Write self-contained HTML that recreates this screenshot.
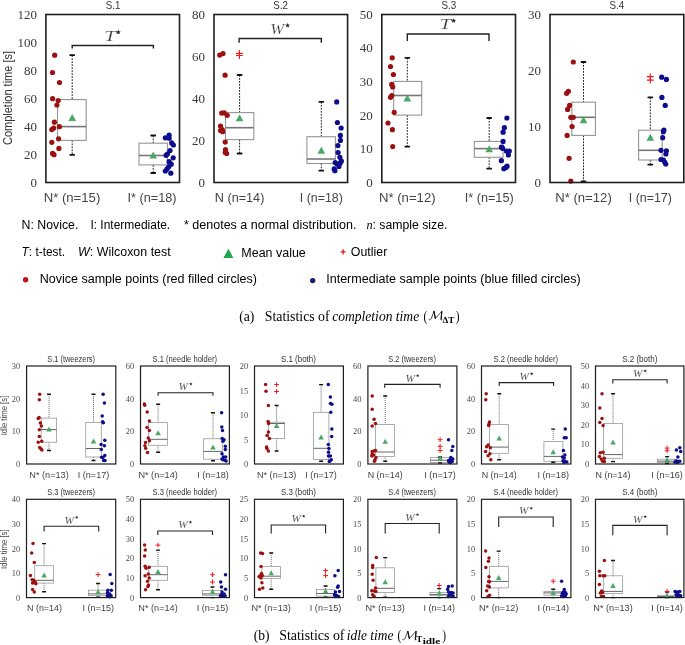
<!DOCTYPE html>
<html><head><meta charset="utf-8"><style>
html,body{margin:0;padding:0;background:#fff;}
svg{display:block;will-change:transform;}
</style></head><body>
<svg width="685" height="645" viewBox="0 0 685 645">
<rect width="685" height="645" fill="#fff"/>
<text x="36.9" y="186.85" font-size="13.2" font-family='"Liberation Serif", serif' text-anchor="end" fill="#3a3a3a" textLength="6.5" lengthAdjust="spacingAndGlyphs" >0</text>
<text x="36.9" y="158.85" font-size="13.2" font-family='"Liberation Serif", serif' text-anchor="end" fill="#3a3a3a" textLength="13" lengthAdjust="spacingAndGlyphs" >20</text>
<text x="36.9" y="130.85" font-size="13.2" font-family='"Liberation Serif", serif' text-anchor="end" fill="#3a3a3a" textLength="13" lengthAdjust="spacingAndGlyphs" >40</text>
<text x="36.9" y="102.85" font-size="13.2" font-family='"Liberation Serif", serif' text-anchor="end" fill="#3a3a3a" textLength="13" lengthAdjust="spacingAndGlyphs" >60</text>
<text x="36.9" y="74.85" font-size="13.2" font-family='"Liberation Serif", serif' text-anchor="end" fill="#3a3a3a" textLength="13" lengthAdjust="spacingAndGlyphs" >80</text>
<text x="36.9" y="46.85" font-size="13.2" font-family='"Liberation Serif", serif' text-anchor="end" fill="#3a3a3a" textLength="19.5" lengthAdjust="spacingAndGlyphs" >100</text>
<text x="36.9" y="18.85" font-size="13.2" font-family='"Liberation Serif", serif' text-anchor="end" fill="#3a3a3a" textLength="19.5" lengthAdjust="spacingAndGlyphs" >120</text>
<text x="113" y="9" font-size="10.5" font-family='"Liberation Sans", sans-serif' text-anchor="middle" fill="#333333" textLength="14.7" lengthAdjust="spacingAndGlyphs" >S.1</text>
<path d="M72.2 48.5V45.5H153.4V48.5" stroke="#222" stroke-width="1.4" fill="none"/>
<text x="104.2" y="40.6" font-size="14.6" font-family='"Liberation Serif", serif' text-anchor="start" fill="#333" textLength="11.6" lengthAdjust="spacingAndGlyphs" style="font-style:italic" stroke="#fff" stroke-width="0.2">T</text>
<polygon points="118.3,29.8 119.03,31.29 120.68,31.53 119.49,32.69 119.77,34.32 118.3,33.55 116.83,34.32 117.11,32.69 115.92,31.53 117.57,31.29" fill="#333"/>
<path d="M72.2 55.2V99.6M72.2 140.4V154.8" stroke="#222" stroke-width="1.0" stroke-dasharray="1.8,1.2" fill="none"/>
<rect x="57.5" y="99.6" width="28.7" height="40.8" fill="#fff" stroke="#959595" stroke-width="1.1"/>
<path d="M57.5 126.6H86.2" stroke="#777" stroke-width="1.6"/>
<path d="M70.2 55.2H74.2M70.2 154.8H74.2" stroke="#111" stroke-width="1.8" stroke-linecap="round"/>
<polygon points="68.4,120.9 76,120.9 72.2,113.9" fill="#4aa865"/>
<path d="M153.2 135.5V143.2M153.2 164.9V173" stroke="#222" stroke-width="1.0" stroke-dasharray="1.8,1.2" fill="none"/>
<rect x="139" y="143.2" width="28.4" height="21.7" fill="#fff" stroke="#959595" stroke-width="1.1"/>
<path d="M139 155.5H167.4" stroke="#777" stroke-width="1.6"/>
<path d="M151.2 135.5H155.2M151.2 173H155.2" stroke="#111" stroke-width="1.8" stroke-linecap="round"/>
<polygon points="149.4,158.5 157,158.5 153.2,151.5" fill="#4aa865"/>
<circle cx="54.7" cy="55.2" r="2.6" fill="#9c1010"/>
<circle cx="52.5" cy="72.5" r="2.6" fill="#9c1010"/>
<circle cx="59.5" cy="82.5" r="2.6" fill="#9c1010"/>
<circle cx="52.6" cy="98.7" r="2.6" fill="#9c1010"/>
<circle cx="58.2" cy="100.6" r="2.6" fill="#9c1010"/>
<circle cx="56.9" cy="105" r="2.6" fill="#9c1010"/>
<circle cx="54.4" cy="122.2" r="2.6" fill="#9c1010"/>
<circle cx="59.4" cy="126.7" r="2.6" fill="#9c1010"/>
<circle cx="53.7" cy="128" r="2.6" fill="#9c1010"/>
<circle cx="51.8" cy="129.6" r="2.6" fill="#9c1010"/>
<circle cx="58.6" cy="138.8" r="2.6" fill="#9c1010"/>
<circle cx="51.8" cy="142.3" r="2.6" fill="#9c1010"/>
<circle cx="58.9" cy="148.4" r="2.6" fill="#9c1010"/>
<circle cx="52.6" cy="153.4" r="2.6" fill="#9c1010"/>
<circle cx="54" cy="154.7" r="2.6" fill="#9c1010"/>
<circle cx="165.3" cy="137.8" r="2.6" fill="#0c0c8c"/>
<circle cx="169.1" cy="135.2" r="2.6" fill="#0c0c8c"/>
<circle cx="169.1" cy="138.2" r="2.6" fill="#0c0c8c"/>
<circle cx="171.7" cy="142.9" r="2.6" fill="#0c0c8c"/>
<circle cx="173.4" cy="145" r="2.6" fill="#0c0c8c"/>
<circle cx="170" cy="150.6" r="2.6" fill="#0c0c8c"/>
<circle cx="166.1" cy="155.3" r="2.6" fill="#0c0c8c"/>
<circle cx="173.2" cy="157.8" r="2.6" fill="#0c0c8c"/>
<circle cx="169.1" cy="161.7" r="2.6" fill="#0c0c8c"/>
<circle cx="171.2" cy="164.2" r="2.6" fill="#0c0c8c"/>
<circle cx="168.7" cy="166.8" r="2.6" fill="#0c0c8c"/>
<circle cx="167" cy="168.9" r="2.6" fill="#0c0c8c"/>
<circle cx="165.3" cy="171" r="2.6" fill="#0c0c8c"/>
<circle cx="170.8" cy="173.2" r="2.6" fill="#0c0c8c"/>
<circle cx="167.4" cy="154" r="2.6" fill="#0c0c8c"/>
<rect x="45.9" y="14.5" width="133.6" height="168" fill="none" stroke="#1e1e1e" stroke-width="1.6"/>
<text x="72" y="202" font-size="12" font-family='"Liberation Sans", sans-serif' text-anchor="middle" fill="#444" textLength="56.6" lengthAdjust="spacingAndGlyphs" >N* (n=15)</text>
<text x="152" y="202" font-size="12" font-family='"Liberation Sans", sans-serif' text-anchor="middle" fill="#444" textLength="49" lengthAdjust="spacingAndGlyphs" >I* (n=18)</text>
<text x="205" y="186.85" font-size="13.2" font-family='"Liberation Serif", serif' text-anchor="end" fill="#3a3a3a" textLength="6.5" lengthAdjust="spacingAndGlyphs" >0</text>
<text x="205" y="144.85" font-size="13.2" font-family='"Liberation Serif", serif' text-anchor="end" fill="#3a3a3a" textLength="13" lengthAdjust="spacingAndGlyphs" >20</text>
<text x="205" y="102.85" font-size="13.2" font-family='"Liberation Serif", serif' text-anchor="end" fill="#3a3a3a" textLength="13" lengthAdjust="spacingAndGlyphs" >40</text>
<text x="205" y="60.85" font-size="13.2" font-family='"Liberation Serif", serif' text-anchor="end" fill="#3a3a3a" textLength="13" lengthAdjust="spacingAndGlyphs" >60</text>
<text x="205" y="18.85" font-size="13.2" font-family='"Liberation Serif", serif' text-anchor="end" fill="#3a3a3a" textLength="13" lengthAdjust="spacingAndGlyphs" >80</text>
<text x="280.6" y="9" font-size="10.5" font-family='"Liberation Sans", sans-serif' text-anchor="middle" fill="#333333" textLength="14.7" lengthAdjust="spacingAndGlyphs" >S.2</text>
<path d="M239.1 42.7V38.5H321.3V42.7" stroke="#222" stroke-width="1.4" fill="none"/>
<text x="270.2" y="33.6" font-size="14.6" font-family='"Liberation Serif", serif' text-anchor="start" fill="#333" textLength="13.9" lengthAdjust="spacingAndGlyphs" style="font-style:italic" stroke="#fff" stroke-width="0.2">W</text>
<polygon points="287.6,22.9 288.33,24.39 289.98,24.63 288.79,25.79 289.07,27.42 287.6,26.65 286.13,27.42 286.41,25.79 285.22,24.63 286.87,24.39" fill="#333"/>
<path d="M239.6 75V112.6M239.6 139.6V153.5" stroke="#222" stroke-width="1.0" stroke-dasharray="1.8,1.2" fill="none"/>
<rect x="225.5" y="112.6" width="28.3" height="27" fill="#fff" stroke="#959595" stroke-width="1.1"/>
<path d="M225.5 127.7H253.8" stroke="#777" stroke-width="1.6"/>
<path d="M237.6 75H241.6M237.6 153.5H241.6" stroke="#111" stroke-width="1.8" stroke-linecap="round"/>
<path d="M236 53.4H242.8M239.4 50V56.8" stroke="#f01818" stroke-width="1.1" fill="none"/>
<path d="M236 55.5H242.8M239.4 52.1V58.9" stroke="#f01818" stroke-width="1.1" fill="none"/>
<polygon points="235.8,121.3 243.4,121.3 239.6,114.3" fill="#4aa865"/>
<path d="M321.3 101.9V136.7M321.3 163.5V170.7" stroke="#222" stroke-width="1.0" stroke-dasharray="1.8,1.2" fill="none"/>
<rect x="306.9" y="136.7" width="28.5" height="26.8" fill="#fff" stroke="#959595" stroke-width="1.1"/>
<path d="M306.9 159H335.4" stroke="#777" stroke-width="1.6"/>
<path d="M319.3 101.9H323.3M319.3 170.7H323.3" stroke="#111" stroke-width="1.8" stroke-linecap="round"/>
<polygon points="317.5,153.8 325.1,153.8 321.3,146.8" fill="#4aa865"/>
<circle cx="219.7" cy="55.1" r="2.6" fill="#9c1010"/>
<circle cx="223" cy="53.6" r="2.6" fill="#9c1010"/>
<circle cx="225.1" cy="75.2" r="2.6" fill="#9c1010"/>
<circle cx="221.7" cy="113.1" r="2.6" fill="#9c1010"/>
<circle cx="224.2" cy="112.8" r="2.6" fill="#9c1010"/>
<circle cx="227.2" cy="115.3" r="2.6" fill="#9c1010"/>
<circle cx="220.5" cy="126" r="2.6" fill="#9c1010"/>
<circle cx="220.5" cy="130.5" r="2.6" fill="#9c1010"/>
<circle cx="222.7" cy="131.7" r="2.6" fill="#9c1010"/>
<circle cx="222.2" cy="129.7" r="2.6" fill="#9c1010"/>
<circle cx="225.2" cy="142.1" r="2.6" fill="#9c1010"/>
<circle cx="225.5" cy="149.6" r="2.6" fill="#9c1010"/>
<circle cx="226.7" cy="153.5" r="2.6" fill="#9c1010"/>
<circle cx="225.2" cy="152.5" r="2.6" fill="#9c1010"/>
<circle cx="336.7" cy="101.9" r="2.6" fill="#0c0c8c"/>
<circle cx="337.4" cy="122.5" r="2.6" fill="#0c0c8c"/>
<circle cx="341.1" cy="128" r="2.6" fill="#0c0c8c"/>
<circle cx="340.4" cy="135.4" r="2.6" fill="#0c0c8c"/>
<circle cx="340.4" cy="140.4" r="2.6" fill="#0c0c8c"/>
<circle cx="337.9" cy="145.6" r="2.6" fill="#0c0c8c"/>
<circle cx="338.1" cy="152.5" r="2.6" fill="#0c0c8c"/>
<circle cx="339.9" cy="157.3" r="2.6" fill="#0c0c8c"/>
<circle cx="341.4" cy="161" r="2.6" fill="#0c0c8c"/>
<circle cx="335.2" cy="162.5" r="2.6" fill="#0c0c8c"/>
<circle cx="336.9" cy="164" r="2.6" fill="#0c0c8c"/>
<circle cx="340.1" cy="163.2" r="2.6" fill="#0c0c8c"/>
<circle cx="338.9" cy="166.4" r="2.6" fill="#0c0c8c"/>
<circle cx="334.2" cy="168.9" r="2.6" fill="#0c0c8c"/>
<circle cx="334.9" cy="170.7" r="2.6" fill="#0c0c8c"/>
<rect x="214" y="14.5" width="133.6" height="168" fill="none" stroke="#1e1e1e" stroke-width="1.6"/>
<text x="239.6" y="202" font-size="12" font-family='"Liberation Sans", sans-serif' text-anchor="middle" fill="#444" textLength="49.5" lengthAdjust="spacingAndGlyphs" >N (n=14)</text>
<text x="321.3" y="202" font-size="12" font-family='"Liberation Sans", sans-serif' text-anchor="middle" fill="#444" textLength="43" lengthAdjust="spacingAndGlyphs" >I (n=18)</text>
<text x="372.8" y="186.85" font-size="13.2" font-family='"Liberation Serif", serif' text-anchor="end" fill="#3a3a3a" textLength="6.5" lengthAdjust="spacingAndGlyphs" >0</text>
<text x="372.8" y="153.25" font-size="13.2" font-family='"Liberation Serif", serif' text-anchor="end" fill="#3a3a3a" textLength="13" lengthAdjust="spacingAndGlyphs" >10</text>
<text x="372.8" y="119.65" font-size="13.2" font-family='"Liberation Serif", serif' text-anchor="end" fill="#3a3a3a" textLength="13" lengthAdjust="spacingAndGlyphs" >20</text>
<text x="372.8" y="86.05" font-size="13.2" font-family='"Liberation Serif", serif' text-anchor="end" fill="#3a3a3a" textLength="13" lengthAdjust="spacingAndGlyphs" >30</text>
<text x="372.8" y="52.45" font-size="13.2" font-family='"Liberation Serif", serif' text-anchor="end" fill="#3a3a3a" textLength="13" lengthAdjust="spacingAndGlyphs" >40</text>
<text x="372.8" y="18.85" font-size="13.2" font-family='"Liberation Serif", serif' text-anchor="end" fill="#3a3a3a" textLength="13" lengthAdjust="spacingAndGlyphs" >50</text>
<text x="448.8" y="9" font-size="10.5" font-family='"Liberation Sans", sans-serif' text-anchor="middle" fill="#333333" textLength="14.7" lengthAdjust="spacingAndGlyphs" >S.3</text>
<path d="M407.3 41V34H489V41" stroke="#222" stroke-width="1.4" fill="none"/>
<text x="439.55" y="29.1" font-size="14.6" font-family='"Liberation Serif", serif' text-anchor="start" fill="#333" textLength="11.6" lengthAdjust="spacingAndGlyphs" style="font-style:italic" stroke="#fff" stroke-width="0.2">T</text>
<polygon points="453.65,18.3 454.38,19.79 456.03,20.03 454.84,21.19 455.12,22.82 453.65,22.05 452.18,22.82 452.46,21.19 451.27,20.03 452.92,19.79" fill="#333"/>
<path d="M407.3 57.8V81.4M407.3 115.1V146.6" stroke="#222" stroke-width="1.0" stroke-dasharray="1.8,1.2" fill="none"/>
<rect x="393.7" y="81.4" width="28" height="33.7" fill="#fff" stroke="#959595" stroke-width="1.1"/>
<path d="M393.7 95.5H421.7" stroke="#777" stroke-width="1.6"/>
<path d="M405.3 57.8H409.3M405.3 146.6H409.3" stroke="#111" stroke-width="1.8" stroke-linecap="round"/>
<polygon points="403.5,101.4 411.1,101.4 407.3,94.4" fill="#4aa865"/>
<path d="M489.2 118V141.4M489.2 157.3V168.7" stroke="#222" stroke-width="1.0" stroke-dasharray="1.8,1.2" fill="none"/>
<rect x="474.3" y="141.4" width="28.8" height="15.9" fill="#fff" stroke="#959595" stroke-width="1.1"/>
<path d="M474.3 148.6H503.1" stroke="#777" stroke-width="1.6"/>
<path d="M487.2 118H491.2M487.2 168.7H491.2" stroke="#111" stroke-width="1.8" stroke-linecap="round"/>
<polygon points="485.4,152.3 493,152.3 489.2,145.3" fill="#4aa865"/>
<circle cx="392.2" cy="57.8" r="2.6" fill="#9c1010"/>
<circle cx="390.5" cy="66.5" r="2.6" fill="#9c1010"/>
<circle cx="393.4" cy="74.5" r="2.6" fill="#9c1010"/>
<circle cx="391.7" cy="84.4" r="2.6" fill="#9c1010"/>
<circle cx="392.7" cy="86.9" r="2.6" fill="#9c1010"/>
<circle cx="391.7" cy="95.6" r="2.6" fill="#9c1010"/>
<circle cx="390.5" cy="97.3" r="2.6" fill="#9c1010"/>
<circle cx="394.2" cy="112.3" r="2.6" fill="#9c1010"/>
<circle cx="388" cy="123" r="2.6" fill="#9c1010"/>
<circle cx="392.4" cy="129.7" r="2.6" fill="#9c1010"/>
<circle cx="392.7" cy="146.6" r="2.6" fill="#9c1010"/>
<circle cx="506.9" cy="118" r="2.6" fill="#0c0c8c"/>
<circle cx="504.4" cy="127.7" r="2.6" fill="#0c0c8c"/>
<circle cx="503.1" cy="132.2" r="2.6" fill="#0c0c8c"/>
<circle cx="503.1" cy="141.4" r="2.6" fill="#0c0c8c"/>
<circle cx="501.4" cy="147.1" r="2.6" fill="#0c0c8c"/>
<circle cx="502.6" cy="148.3" r="2.6" fill="#0c0c8c"/>
<circle cx="506.4" cy="151.1" r="2.6" fill="#0c0c8c"/>
<circle cx="509.3" cy="151.1" r="2.6" fill="#0c0c8c"/>
<circle cx="508.4" cy="155" r="2.6" fill="#0c0c8c"/>
<circle cx="501.4" cy="160.7" r="2.6" fill="#0c0c8c"/>
<circle cx="507.1" cy="166.2" r="2.6" fill="#0c0c8c"/>
<circle cx="503.9" cy="168.7" r="2.6" fill="#0c0c8c"/>
<circle cx="505.9" cy="167.4" r="2.6" fill="#0c0c8c"/>
<circle cx="501.9" cy="147.6" r="2.6" fill="#0c0c8c"/>
<rect x="381.8" y="14.5" width="133.7" height="168" fill="none" stroke="#1e1e1e" stroke-width="1.6"/>
<text x="407.3" y="202" font-size="12" font-family='"Liberation Sans", sans-serif' text-anchor="middle" fill="#444" textLength="56.6" lengthAdjust="spacingAndGlyphs" >N* (n=12)</text>
<text x="489.2" y="202" font-size="12" font-family='"Liberation Sans", sans-serif' text-anchor="middle" fill="#444" textLength="49" lengthAdjust="spacingAndGlyphs" >I* (n=15)</text>
<text x="541" y="186.85" font-size="13.2" font-family='"Liberation Serif", serif' text-anchor="end" fill="#3a3a3a" textLength="6.5" lengthAdjust="spacingAndGlyphs" >0</text>
<text x="541" y="130.85" font-size="13.2" font-family='"Liberation Serif", serif' text-anchor="end" fill="#3a3a3a" textLength="13" lengthAdjust="spacingAndGlyphs" >10</text>
<text x="541" y="74.85" font-size="13.2" font-family='"Liberation Serif", serif' text-anchor="end" fill="#3a3a3a" textLength="13" lengthAdjust="spacingAndGlyphs" >20</text>
<text x="541" y="18.85" font-size="13.2" font-family='"Liberation Serif", serif' text-anchor="end" fill="#3a3a3a" textLength="13" lengthAdjust="spacingAndGlyphs" >30</text>
<text x="616.8" y="9" font-size="10.5" font-family='"Liberation Sans", sans-serif' text-anchor="middle" fill="#333333" textLength="14.7" lengthAdjust="spacingAndGlyphs" >S.4</text>
<path d="M583.5 62V102.2M583.5 135.4V181.3" stroke="#222" stroke-width="1.0" stroke-dasharray="1.8,1.2" fill="none"/>
<rect x="571.8" y="102.2" width="23.6" height="33.2" fill="#fff" stroke="#959595" stroke-width="1.1"/>
<path d="M571.8 117.3H595.4" stroke="#777" stroke-width="1.6"/>
<path d="M581.5 62H585.5M581.5 181.3H585.5" stroke="#111" stroke-width="1.8" stroke-linecap="round"/>
<polygon points="579.7,123.3 587.3,123.3 583.5,116.3" fill="#4aa865"/>
<path d="M650.3 97.4V130.2M650.3 160V164.7" stroke="#222" stroke-width="1.0" stroke-dasharray="1.8,1.2" fill="none"/>
<rect x="638.6" y="130.2" width="23.6" height="29.8" fill="#fff" stroke="#959595" stroke-width="1.1"/>
<path d="M638.6 150.3H662.2" stroke="#777" stroke-width="1.6"/>
<path d="M648.3 97.4H652.3M648.3 164.7H652.3" stroke="#111" stroke-width="1.8" stroke-linecap="round"/>
<path d="M646.9 76.6H653.7M650.3 73.2V80" stroke="#f01818" stroke-width="1.1" fill="none"/>
<path d="M646.9 80.1H653.7M650.3 76.7V83.5" stroke="#f01818" stroke-width="1.1" fill="none"/>
<polygon points="646.5,140.7 654.1,140.7 650.3,133.7" fill="#4aa865"/>
<circle cx="573.3" cy="62" r="2.6" fill="#9c1010"/>
<circle cx="568.4" cy="91.3" r="2.6" fill="#9c1010"/>
<circle cx="566.6" cy="93.3" r="2.6" fill="#9c1010"/>
<circle cx="569.6" cy="105.4" r="2.6" fill="#9c1010"/>
<circle cx="567.6" cy="109.4" r="2.6" fill="#9c1010"/>
<circle cx="570.8" cy="117.3" r="2.6" fill="#9c1010"/>
<circle cx="573.3" cy="117.3" r="2.6" fill="#9c1010"/>
<circle cx="572.1" cy="126.5" r="2.6" fill="#9c1010"/>
<circle cx="567.1" cy="135.4" r="2.6" fill="#9c1010"/>
<circle cx="569.1" cy="158.3" r="2.6" fill="#9c1010"/>
<circle cx="570.8" cy="181.1" r="2.6" fill="#9c1010"/>
<circle cx="661.7" cy="77.2" r="2.6" fill="#0c0c8c"/>
<circle cx="666.4" cy="79.4" r="2.6" fill="#0c0c8c"/>
<circle cx="661.9" cy="97.4" r="2.6" fill="#0c0c8c"/>
<circle cx="665.2" cy="105.4" r="2.6" fill="#0c0c8c"/>
<circle cx="663.9" cy="130.2" r="2.6" fill="#0c0c8c"/>
<circle cx="663.4" cy="131.7" r="2.6" fill="#0c0c8c"/>
<circle cx="662.7" cy="137.7" r="2.6" fill="#0c0c8c"/>
<circle cx="661" cy="150.3" r="2.6" fill="#0c0c8c"/>
<circle cx="666.4" cy="150.8" r="2.6" fill="#0c0c8c"/>
<circle cx="665.9" cy="154" r="2.6" fill="#0c0c8c"/>
<circle cx="661" cy="159.5" r="2.6" fill="#0c0c8c"/>
<circle cx="663.4" cy="160" r="2.6" fill="#0c0c8c"/>
<circle cx="664.7" cy="162" r="2.6" fill="#0c0c8c"/>
<circle cx="665.7" cy="164" r="2.6" fill="#0c0c8c"/>
<rect x="550" y="14.5" width="133.8" height="168" fill="none" stroke="#1e1e1e" stroke-width="1.6"/>
<text x="583.5" y="202" font-size="12" font-family='"Liberation Sans", sans-serif' text-anchor="middle" fill="#444" textLength="56.6" lengthAdjust="spacingAndGlyphs" >N* (n=12)</text>
<text x="650.3" y="202" font-size="12" font-family='"Liberation Sans", sans-serif' text-anchor="middle" fill="#444" textLength="43" lengthAdjust="spacingAndGlyphs" >I (n=17)</text>
<text x="20.2" y="467.05" font-size="9.2" font-family='"Liberation Serif", serif' text-anchor="end" fill="#4a4a4a" textLength="4.2" lengthAdjust="spacingAndGlyphs" >0</text>
<text x="20.2" y="434.38" font-size="9.2" font-family='"Liberation Serif", serif' text-anchor="end" fill="#4a4a4a" textLength="8.4" lengthAdjust="spacingAndGlyphs" >10</text>
<text x="20.2" y="401.72" font-size="9.2" font-family='"Liberation Serif", serif' text-anchor="end" fill="#4a4a4a" textLength="8.4" lengthAdjust="spacingAndGlyphs" >20</text>
<text x="20.2" y="369.05" font-size="9.2" font-family='"Liberation Serif", serif' text-anchor="end" fill="#4a4a4a" textLength="8.4" lengthAdjust="spacingAndGlyphs" >30</text>
<text x="71.2" y="362.2" font-size="9.6" font-family='"Liberation Sans", sans-serif' text-anchor="middle" fill="#333333" textLength="47.7" lengthAdjust="spacingAndGlyphs" >S.1 (tweezers)</text>
<path d="M49 394.2V418.1M49 442.2V450.5" stroke="#222" stroke-width="0.7" stroke-dasharray="1,1" fill="none"/>
<rect x="41.2" y="418.1" width="15.4" height="24.1" fill="#fff" stroke="#999" stroke-width="0.8"/>
<path d="M41.2 429.6H56.6" stroke="#666" stroke-width="1.0"/>
<path d="M47 394.2H51M47 450.5H51" stroke="#111" stroke-width="1.45" stroke-linecap="butt"/>
<polygon points="46.25,431.5 51.75,431.5 49,426.5" fill="#4aa865"/>
<path d="M93.5 394.2V422.5M93.5 457V460.4" stroke="#222" stroke-width="0.7" stroke-dasharray="1,1" fill="none"/>
<rect x="85.7" y="422.5" width="15.6" height="34.5" fill="#fff" stroke="#999" stroke-width="0.8"/>
<path d="M85.7 448.5H101.3" stroke="#666" stroke-width="1.0"/>
<path d="M91.5 394.2H95.5M91.5 460.4H95.5" stroke="#111" stroke-width="1.45" stroke-linecap="butt"/>
<polygon points="90.75,443.4 96.25,443.4 93.5,438.4" fill="#4aa865"/>
<circle cx="39.7" cy="394.2" r="1.75" fill="#9c1010"/>
<circle cx="39.3" cy="399.7" r="1.75" fill="#9c1010"/>
<circle cx="39.1" cy="417.5" r="1.75" fill="#9c1010"/>
<circle cx="38.2" cy="418.6" r="1.75" fill="#9c1010"/>
<circle cx="40.4" cy="422.9" r="1.75" fill="#9c1010"/>
<circle cx="41.4" cy="426.1" r="1.75" fill="#9c1010"/>
<circle cx="39.3" cy="429.8" r="1.75" fill="#9c1010"/>
<circle cx="39.3" cy="436.6" r="1.75" fill="#9c1010"/>
<circle cx="41.7" cy="441.3" r="1.75" fill="#9c1010"/>
<circle cx="38.2" cy="442.2" r="1.75" fill="#9c1010"/>
<circle cx="39.7" cy="447.4" r="1.75" fill="#9c1010"/>
<circle cx="41.9" cy="450" r="1.75" fill="#9c1010"/>
<circle cx="41" cy="448.9" r="1.75" fill="#9c1010"/>
<circle cx="103.1" cy="394.2" r="1.75" fill="#0c0c8c"/>
<circle cx="104.4" cy="402.9" r="1.75" fill="#0c0c8c"/>
<circle cx="102.2" cy="416" r="1.75" fill="#0c0c8c"/>
<circle cx="102.6" cy="421.8" r="1.75" fill="#0c0c8c"/>
<circle cx="103.3" cy="422.7" r="1.75" fill="#0c0c8c"/>
<circle cx="104.8" cy="440.3" r="1.75" fill="#0c0c8c"/>
<circle cx="101.1" cy="444.6" r="1.75" fill="#0c0c8c"/>
<circle cx="104.4" cy="445.7" r="1.75" fill="#0c0c8c"/>
<circle cx="101.3" cy="449.4" r="1.75" fill="#0c0c8c"/>
<circle cx="104.8" cy="455.4" r="1.75" fill="#0c0c8c"/>
<circle cx="101.6" cy="457.2" r="1.75" fill="#0c0c8c"/>
<circle cx="102.9" cy="457.6" r="1.75" fill="#0c0c8c"/>
<circle cx="103.7" cy="460.4" r="1.75" fill="#0c0c8c"/>
<circle cx="105" cy="460.4" r="1.75" fill="#0c0c8c"/>
<rect x="26.6" y="366" width="89.2" height="98" fill="none" stroke="#1e1e1e" stroke-width="1.2"/>
<text x="49" y="477.7" font-size="9" font-family='"Liberation Sans", sans-serif' text-anchor="middle" fill="#444" textLength="39.4" lengthAdjust="spacingAndGlyphs" >N* (n=13)</text>
<text x="93.5" y="477.7" font-size="9" font-family='"Liberation Sans", sans-serif' text-anchor="middle" fill="#444" textLength="31.6" lengthAdjust="spacingAndGlyphs" >I (n=17)</text>
<text x="134.1" y="467.05" font-size="9.2" font-family='"Liberation Serif", serif' text-anchor="end" fill="#4a4a4a" textLength="4.2" lengthAdjust="spacingAndGlyphs" >0</text>
<text x="134.1" y="434.38" font-size="9.2" font-family='"Liberation Serif", serif' text-anchor="end" fill="#4a4a4a" textLength="8.4" lengthAdjust="spacingAndGlyphs" >20</text>
<text x="134.1" y="401.72" font-size="9.2" font-family='"Liberation Serif", serif' text-anchor="end" fill="#4a4a4a" textLength="8.4" lengthAdjust="spacingAndGlyphs" >40</text>
<text x="134.1" y="369.05" font-size="9.2" font-family='"Liberation Serif", serif' text-anchor="end" fill="#4a4a4a" textLength="8.4" lengthAdjust="spacingAndGlyphs" >60</text>
<text x="184.8" y="362.2" font-size="9.6" font-family='"Liberation Sans", sans-serif' text-anchor="middle" fill="#333333" textLength="64.5" lengthAdjust="spacingAndGlyphs" >S.1 (needle holder)</text>
<path d="M158.1 395.8V392.8H213V395.8" stroke="#222" stroke-width="1.1" fill="none"/>
<text x="178.55" y="390.2" font-size="10.6" font-family='"Liberation Serif", serif' text-anchor="start" fill="#333" textLength="9.4" lengthAdjust="spacingAndGlyphs" style="font-style:italic" stroke="#fff" stroke-width="0.12">W</text>
<polygon points="190.85,382.3 191.35,383.31 192.47,383.47 191.66,384.26 191.85,385.38 190.85,384.85 189.85,385.38 190.04,384.26 189.23,383.47 190.35,383.31" fill="#333"/>
<path d="M158.1 404.3V422.6M158.1 445.3V452.3" stroke="#222" stroke-width="0.7" stroke-dasharray="1,1" fill="none"/>
<rect x="148.5" y="422.6" width="19" height="22.7" fill="#fff" stroke="#999" stroke-width="0.8"/>
<path d="M148.5 439.3H167.5" stroke="#666" stroke-width="1.0"/>
<path d="M156.1 404.3H160.1M156.1 452.3H160.1" stroke="#111" stroke-width="1.45" stroke-linecap="butt"/>
<polygon points="155.35,435.3 160.85,435.3 158.1,430.3" fill="#4aa865"/>
<path d="M213 412.7V438.8M213 459.2V460.7" stroke="#222" stroke-width="0.7" stroke-dasharray="1,1" fill="none"/>
<rect x="203.4" y="438.8" width="18.9" height="20.4" fill="#fff" stroke="#999" stroke-width="0.8"/>
<path d="M203.4 451.4H222.3" stroke="#666" stroke-width="1.0"/>
<path d="M211 412.7H215M211 460.7H215" stroke="#111" stroke-width="1.45" stroke-linecap="butt"/>
<polygon points="210.25,449.6 215.75,449.6 213,444.6" fill="#4aa865"/>
<circle cx="144.4" cy="404" r="1.75" fill="#9c1010"/>
<circle cx="144.7" cy="405.3" r="1.75" fill="#9c1010"/>
<circle cx="147.2" cy="412" r="1.75" fill="#9c1010"/>
<circle cx="149.4" cy="421.1" r="1.75" fill="#9c1010"/>
<circle cx="147" cy="427.6" r="1.75" fill="#9c1010"/>
<circle cx="149.4" cy="430.4" r="1.75" fill="#9c1010"/>
<circle cx="148.3" cy="438" r="1.75" fill="#9c1010"/>
<circle cx="149.4" cy="440.8" r="1.75" fill="#9c1010"/>
<circle cx="145.5" cy="442.5" r="1.75" fill="#9c1010"/>
<circle cx="144.9" cy="445.8" r="1.75" fill="#9c1010"/>
<circle cx="145.7" cy="448.3" r="1.75" fill="#9c1010"/>
<circle cx="147.5" cy="452.5" r="1.75" fill="#9c1010"/>
<circle cx="221.6" cy="412.7" r="1.75" fill="#0c0c8c"/>
<circle cx="221.8" cy="426.9" r="1.75" fill="#0c0c8c"/>
<circle cx="222.5" cy="430.4" r="1.75" fill="#0c0c8c"/>
<circle cx="222.2" cy="438.4" r="1.75" fill="#0c0c8c"/>
<circle cx="224" cy="439.7" r="1.75" fill="#0c0c8c"/>
<circle cx="222.9" cy="441.2" r="1.75" fill="#0c0c8c"/>
<circle cx="225.3" cy="446.2" r="1.75" fill="#0c0c8c"/>
<circle cx="225.3" cy="449.6" r="1.75" fill="#0c0c8c"/>
<circle cx="222" cy="453.8" r="1.75" fill="#0c0c8c"/>
<circle cx="223.5" cy="457" r="1.75" fill="#0c0c8c"/>
<circle cx="225.7" cy="457" r="1.75" fill="#0c0c8c"/>
<circle cx="222" cy="458.9" r="1.75" fill="#0c0c8c"/>
<circle cx="224.8" cy="460.2" r="1.75" fill="#0c0c8c"/>
<circle cx="226.1" cy="461.1" r="1.75" fill="#0c0c8c"/>
<circle cx="222.9" cy="459.8" r="1.75" fill="#0c0c8c"/>
<rect x="140.5" y="366" width="88.9" height="98" fill="none" stroke="#1e1e1e" stroke-width="1.2"/>
<text x="158.1" y="477.7" font-size="9" font-family='"Liberation Sans", sans-serif' text-anchor="middle" fill="#444" textLength="39.4" lengthAdjust="spacingAndGlyphs" >N* (n=14)</text>
<text x="213" y="477.7" font-size="9" font-family='"Liberation Sans", sans-serif' text-anchor="middle" fill="#444" textLength="31.6" lengthAdjust="spacingAndGlyphs" >I (n=18)</text>
<text x="248.1" y="467.05" font-size="9.2" font-family='"Liberation Serif", serif' text-anchor="end" fill="#4a4a4a" textLength="4.2" lengthAdjust="spacingAndGlyphs" >0</text>
<text x="248.1" y="442.55" font-size="9.2" font-family='"Liberation Serif", serif' text-anchor="end" fill="#4a4a4a" textLength="4.2" lengthAdjust="spacingAndGlyphs" >5</text>
<text x="248.1" y="418.05" font-size="9.2" font-family='"Liberation Serif", serif' text-anchor="end" fill="#4a4a4a" textLength="8.4" lengthAdjust="spacingAndGlyphs" >10</text>
<text x="248.1" y="393.55" font-size="9.2" font-family='"Liberation Serif", serif' text-anchor="end" fill="#4a4a4a" textLength="8.4" lengthAdjust="spacingAndGlyphs" >15</text>
<text x="248.1" y="369.05" font-size="9.2" font-family='"Liberation Serif", serif' text-anchor="end" fill="#4a4a4a" textLength="8.4" lengthAdjust="spacingAndGlyphs" >20</text>
<text x="298.4" y="362.2" font-size="9.6" font-family='"Liberation Sans", sans-serif' text-anchor="middle" fill="#333333" textLength="35" lengthAdjust="spacingAndGlyphs" >S.1 (both)</text>
<path d="M276.6 405.5V422.2M276.6 438.4V451" stroke="#222" stroke-width="0.7" stroke-dasharray="1,1" fill="none"/>
<rect x="268.4" y="422.2" width="16.2" height="16.2" fill="#fff" stroke="#999" stroke-width="0.8"/>
<path d="M268.4 423.5H284.6" stroke="#666" stroke-width="1.0"/>
<path d="M274.6 405.5H278.6M274.6 451H278.6" stroke="#111" stroke-width="1.45" stroke-linecap="butt"/>
<path d="M274.2 384.6H279M276.6 382.2V387" stroke="#f01818" stroke-width="1" fill="none"/>
<path d="M274.2 391.5H279M276.6 389.1V393.9" stroke="#f01818" stroke-width="1" fill="none"/>
<polygon points="273.85,427.9 279.35,427.9 276.6,422.9" fill="#4aa865"/>
<path d="M321.1 384.6V412.3M321.1 459.4V461.3" stroke="#222" stroke-width="0.7" stroke-dasharray="1,1" fill="none"/>
<rect x="313.5" y="412.3" width="15.4" height="47.1" fill="#fff" stroke="#999" stroke-width="0.8"/>
<path d="M313.5 448.3H328.9" stroke="#666" stroke-width="1.0"/>
<path d="M319.1 384.6H323.1M319.1 461.3H323.1" stroke="#111" stroke-width="1.45" stroke-linecap="butt"/>
<polygon points="318.35,439.6 323.85,439.6 321.1,434.6" fill="#4aa865"/>
<circle cx="265.6" cy="384.6" r="1.75" fill="#9c1010"/>
<circle cx="266" cy="391.3" r="1.75" fill="#9c1010"/>
<circle cx="268.4" cy="405.5" r="1.75" fill="#9c1010"/>
<circle cx="268.1" cy="421.6" r="1.75" fill="#9c1010"/>
<circle cx="268.6" cy="423.5" r="1.75" fill="#9c1010"/>
<circle cx="268.4" cy="431.9" r="1.75" fill="#9c1010"/>
<circle cx="267.1" cy="435.6" r="1.75" fill="#9c1010"/>
<circle cx="269.4" cy="438.4" r="1.75" fill="#9c1010"/>
<circle cx="266.6" cy="447.1" r="1.75" fill="#9c1010"/>
<circle cx="266.9" cy="448.6" r="1.75" fill="#9c1010"/>
<circle cx="268.4" cy="451" r="1.75" fill="#9c1010"/>
<circle cx="328.3" cy="384.6" r="1.75" fill="#0c0c8c"/>
<circle cx="330.4" cy="396.9" r="1.75" fill="#0c0c8c"/>
<circle cx="330.4" cy="403.6" r="1.75" fill="#0c0c8c"/>
<circle cx="331.9" cy="404.2" r="1.75" fill="#0c0c8c"/>
<circle cx="330.8" cy="412.3" r="1.75" fill="#0c0c8c"/>
<circle cx="331.9" cy="429.1" r="1.75" fill="#0c0c8c"/>
<circle cx="331.7" cy="436.5" r="1.75" fill="#0c0c8c"/>
<circle cx="328.3" cy="444.5" r="1.75" fill="#0c0c8c"/>
<circle cx="328.9" cy="448.6" r="1.75" fill="#0c0c8c"/>
<circle cx="328.5" cy="452.3" r="1.75" fill="#0c0c8c"/>
<circle cx="328.5" cy="456.1" r="1.75" fill="#0c0c8c"/>
<circle cx="330.4" cy="456.1" r="1.75" fill="#0c0c8c"/>
<circle cx="331.3" cy="459.8" r="1.75" fill="#0c0c8c"/>
<circle cx="329.8" cy="461.1" r="1.75" fill="#0c0c8c"/>
<circle cx="329.3" cy="461.6" r="1.75" fill="#0c0c8c"/>
<rect x="254.5" y="366" width="88.9" height="98" fill="none" stroke="#1e1e1e" stroke-width="1.2"/>
<text x="276.6" y="477.7" font-size="9" font-family='"Liberation Sans", sans-serif' text-anchor="middle" fill="#444" textLength="39.4" lengthAdjust="spacingAndGlyphs" >N* (n=13)</text>
<text x="321.1" y="477.7" font-size="9" font-family='"Liberation Sans", sans-serif' text-anchor="middle" fill="#444" textLength="31.6" lengthAdjust="spacingAndGlyphs" >I (n=17)</text>
<text x="361.5" y="467.05" font-size="9.2" font-family='"Liberation Serif", serif' text-anchor="end" fill="#4a4a4a" textLength="4.2" lengthAdjust="spacingAndGlyphs" >0</text>
<text x="361.5" y="434.38" font-size="9.2" font-family='"Liberation Serif", serif' text-anchor="end" fill="#4a4a4a" textLength="8.4" lengthAdjust="spacingAndGlyphs" >20</text>
<text x="361.5" y="401.72" font-size="9.2" font-family='"Liberation Serif", serif' text-anchor="end" fill="#4a4a4a" textLength="8.4" lengthAdjust="spacingAndGlyphs" >40</text>
<text x="361.5" y="369.05" font-size="9.2" font-family='"Liberation Serif", serif' text-anchor="end" fill="#4a4a4a" textLength="8.4" lengthAdjust="spacingAndGlyphs" >60</text>
<text x="412.2" y="362.2" font-size="9.6" font-family='"Liberation Sans", sans-serif' text-anchor="middle" fill="#333333" textLength="47.7" lengthAdjust="spacingAndGlyphs" >S.2 (tweezers)</text>
<path d="M384.7 387.8V384.4H440.1V387.8" stroke="#222" stroke-width="1.1" fill="none"/>
<text x="405.4" y="381.8" font-size="10.6" font-family='"Liberation Serif", serif' text-anchor="start" fill="#333" textLength="9.4" lengthAdjust="spacingAndGlyphs" style="font-style:italic" stroke="#fff" stroke-width="0.12">W</text>
<polygon points="417.7,373.9 418.2,374.91 419.32,375.07 418.51,375.86 418.7,376.98 417.7,376.45 416.7,376.98 416.89,375.86 416.08,375.07 417.2,374.91" fill="#333"/>
<path d="M385.2 396V424.4M385.2 456.4V461.3" stroke="#222" stroke-width="0.7" stroke-dasharray="1,1" fill="none"/>
<rect x="375.5" y="424.4" width="19" height="32" fill="#fff" stroke="#999" stroke-width="0.8"/>
<path d="M375.5 452H394.5" stroke="#666" stroke-width="1.0"/>
<path d="M383.2 396H387.2M383.2 461.3H387.2" stroke="#111" stroke-width="1.45" stroke-linecap="butt"/>
<polygon points="382.45,443.7 387.95,443.7 385.2,438.7" fill="#4aa865"/>
<path d="M440.1 457V457.4M440.1 462.6V463" stroke="#222" stroke-width="0.7" stroke-dasharray="1,1" fill="none"/>
<rect x="430.4" y="457.4" width="19" height="5.2" fill="#fff" stroke="#999" stroke-width="0.8"/>
<path d="M430.4 460.2H449.4" stroke="#666" stroke-width="1.0"/>
<path d="M438.1 457H442.1M438.1 463H442.1" stroke="#111" stroke-width="1.45" stroke-linecap="butt"/>
<path d="M437.7 439.7H442.5M440.1 437.3V442.1" stroke="#f01818" stroke-width="1" fill="none"/>
<path d="M437.7 446.4H442.5M440.1 444V448.8" stroke="#f01818" stroke-width="1" fill="none"/>
<path d="M437.7 450.5H442.5M440.1 448.1V452.9" stroke="#f01818" stroke-width="1" fill="none"/>
<polygon points="437.35,460.4 442.85,460.4 440.1,455.4" fill="#4aa865"/>
<circle cx="372.2" cy="396" r="1.75" fill="#9c1010"/>
<circle cx="372.2" cy="409.2" r="1.75" fill="#9c1010"/>
<circle cx="374.1" cy="419.2" r="1.75" fill="#9c1010"/>
<circle cx="375.5" cy="423.5" r="1.75" fill="#9c1010"/>
<circle cx="372.2" cy="425.9" r="1.75" fill="#9c1010"/>
<circle cx="372.2" cy="451.4" r="1.75" fill="#9c1010"/>
<circle cx="374.1" cy="451" r="1.75" fill="#9c1010"/>
<circle cx="375.5" cy="450.5" r="1.75" fill="#9c1010"/>
<circle cx="372.2" cy="454.2" r="1.75" fill="#9c1010"/>
<circle cx="373.5" cy="455.1" r="1.75" fill="#9c1010"/>
<circle cx="371.8" cy="456.1" r="1.75" fill="#9c1010"/>
<circle cx="375.9" cy="457.4" r="1.75" fill="#9c1010"/>
<circle cx="375" cy="459.8" r="1.75" fill="#9c1010"/>
<circle cx="374.4" cy="461.3" r="1.75" fill="#9c1010"/>
<circle cx="448.5" cy="439.7" r="1.75" fill="#0c0c8c"/>
<circle cx="452.8" cy="446.4" r="1.75" fill="#0c0c8c"/>
<circle cx="451.8" cy="450.5" r="1.75" fill="#0c0c8c"/>
<circle cx="450.9" cy="457.6" r="1.75" fill="#0c0c8c"/>
<circle cx="452.8" cy="458.9" r="1.75" fill="#0c0c8c"/>
<circle cx="450" cy="459.8" r="1.75" fill="#0c0c8c"/>
<circle cx="448.5" cy="460.7" r="1.75" fill="#0c0c8c"/>
<circle cx="451.3" cy="461.6" r="1.75" fill="#0c0c8c"/>
<circle cx="449.4" cy="462.2" r="1.75" fill="#0c0c8c"/>
<circle cx="452.2" cy="461.6" r="1.75" fill="#0c0c8c"/>
<circle cx="450.3" cy="462.6" r="1.75" fill="#0c0c8c"/>
<rect x="367.9" y="366" width="89" height="98" fill="none" stroke="#1e1e1e" stroke-width="1.2"/>
<text x="385.2" y="477.7" font-size="9" font-family='"Liberation Sans", sans-serif' text-anchor="middle" fill="#444" textLength="35" lengthAdjust="spacingAndGlyphs" >N (n=14)</text>
<text x="440.1" y="477.7" font-size="9" font-family='"Liberation Sans", sans-serif' text-anchor="middle" fill="#444" textLength="31.6" lengthAdjust="spacingAndGlyphs" >I (n=17)</text>
<text x="475.1" y="467.05" font-size="9.2" font-family='"Liberation Serif", serif' text-anchor="end" fill="#4a4a4a" textLength="4.2" lengthAdjust="spacingAndGlyphs" >0</text>
<text x="475.1" y="434.38" font-size="9.2" font-family='"Liberation Serif", serif' text-anchor="end" fill="#4a4a4a" textLength="8.4" lengthAdjust="spacingAndGlyphs" >20</text>
<text x="475.1" y="401.72" font-size="9.2" font-family='"Liberation Serif", serif' text-anchor="end" fill="#4a4a4a" textLength="8.4" lengthAdjust="spacingAndGlyphs" >40</text>
<text x="475.1" y="369.05" font-size="9.2" font-family='"Liberation Serif", serif' text-anchor="end" fill="#4a4a4a" textLength="8.4" lengthAdjust="spacingAndGlyphs" >60</text>
<text x="525.8" y="362.2" font-size="9.6" font-family='"Liberation Sans", sans-serif' text-anchor="middle" fill="#333333" textLength="64.5" lengthAdjust="spacingAndGlyphs" >S.2 (needle holder)</text>
<path d="M499.2 385.9V382.6H553.6V385.9" stroke="#222" stroke-width="1.1" fill="none"/>
<text x="519.4" y="380" font-size="10.6" font-family='"Liberation Serif", serif' text-anchor="start" fill="#333" textLength="9.4" lengthAdjust="spacingAndGlyphs" style="font-style:italic" stroke="#fff" stroke-width="0.12">W</text>
<polygon points="531.7,372.1 532.2,373.11 533.32,373.27 532.51,374.06 532.7,375.18 531.7,374.65 530.7,375.18 530.89,374.06 530.08,373.27 531.2,373.11" fill="#333"/>
<path d="M499.2 393.7V424.4M499.2 453.3V459.8" stroke="#222" stroke-width="0.7" stroke-dasharray="1,1" fill="none"/>
<rect x="489.5" y="424.4" width="19" height="28.9" fill="#fff" stroke="#999" stroke-width="0.8"/>
<path d="M489.5 447.1H508.5" stroke="#666" stroke-width="1.0"/>
<path d="M497.2 393.7H501.2M497.2 459.8H501.2" stroke="#111" stroke-width="1.45" stroke-linecap="butt"/>
<polygon points="496.45,440.5 501.95,440.5 499.2,435.5" fill="#4aa865"/>
<path d="M553.2 429.1V441.6M553.2 461.3V462.2" stroke="#222" stroke-width="0.7" stroke-dasharray="1,1" fill="none"/>
<rect x="543.9" y="441.6" width="19" height="19.7" fill="#fff" stroke="#999" stroke-width="0.8"/>
<path d="M543.9 456.4H562.9" stroke="#666" stroke-width="1.0"/>
<path d="M551.2 429.1H555.2M551.2 462.2H555.2" stroke="#111" stroke-width="1.45" stroke-linecap="butt"/>
<polygon points="550.45,454.3 555.95,454.3 553.2,449.3" fill="#4aa865"/>
<circle cx="486.2" cy="393.7" r="1.75" fill="#9c1010"/>
<circle cx="485.8" cy="399.7" r="1.75" fill="#9c1010"/>
<circle cx="489.5" cy="422" r="1.75" fill="#9c1010"/>
<circle cx="489" cy="424.1" r="1.75" fill="#9c1010"/>
<circle cx="488.6" cy="425.4" r="1.75" fill="#9c1010"/>
<circle cx="488.1" cy="444.9" r="1.75" fill="#9c1010"/>
<circle cx="486.6" cy="446.8" r="1.75" fill="#9c1010"/>
<circle cx="490.3" cy="447.7" r="1.75" fill="#9c1010"/>
<circle cx="485.6" cy="451.4" r="1.75" fill="#9c1010"/>
<circle cx="489.9" cy="453.8" r="1.75" fill="#9c1010"/>
<circle cx="488.1" cy="455.7" r="1.75" fill="#9c1010"/>
<circle cx="490.8" cy="459.8" r="1.75" fill="#9c1010"/>
<circle cx="565.3" cy="429.1" r="1.75" fill="#0c0c8c"/>
<circle cx="564.3" cy="437.8" r="1.75" fill="#0c0c8c"/>
<circle cx="566.2" cy="437.8" r="1.75" fill="#0c0c8c"/>
<circle cx="563.4" cy="450.5" r="1.75" fill="#0c0c8c"/>
<circle cx="564.9" cy="455.1" r="1.75" fill="#0c0c8c"/>
<circle cx="562.5" cy="457" r="1.75" fill="#0c0c8c"/>
<circle cx="564.3" cy="457.9" r="1.75" fill="#0c0c8c"/>
<circle cx="563" cy="460.7" r="1.75" fill="#0c0c8c"/>
<circle cx="565.3" cy="461.6" r="1.75" fill="#0c0c8c"/>
<circle cx="566.8" cy="462" r="1.75" fill="#0c0c8c"/>
<circle cx="564" cy="462.2" r="1.75" fill="#0c0c8c"/>
<rect x="481.5" y="366" width="89.4" height="98" fill="none" stroke="#1e1e1e" stroke-width="1.2"/>
<text x="499.2" y="477.7" font-size="9" font-family='"Liberation Sans", sans-serif' text-anchor="middle" fill="#444" textLength="35" lengthAdjust="spacingAndGlyphs" >N (n=14)</text>
<text x="553.2" y="477.7" font-size="9" font-family='"Liberation Sans", sans-serif' text-anchor="middle" fill="#444" textLength="31.6" lengthAdjust="spacingAndGlyphs" >I (n=18)</text>
<text x="589.1" y="467.05" font-size="9.2" font-family='"Liberation Serif", serif' text-anchor="end" fill="#4a4a4a" textLength="4.2" lengthAdjust="spacingAndGlyphs" >0</text>
<text x="589.1" y="447.45" font-size="9.2" font-family='"Liberation Serif", serif' text-anchor="end" fill="#4a4a4a" textLength="8.4" lengthAdjust="spacingAndGlyphs" >10</text>
<text x="589.1" y="427.85" font-size="9.2" font-family='"Liberation Serif", serif' text-anchor="end" fill="#4a4a4a" textLength="8.4" lengthAdjust="spacingAndGlyphs" >20</text>
<text x="589.1" y="408.25" font-size="9.2" font-family='"Liberation Serif", serif' text-anchor="end" fill="#4a4a4a" textLength="8.4" lengthAdjust="spacingAndGlyphs" >30</text>
<text x="589.1" y="388.65" font-size="9.2" font-family='"Liberation Serif", serif' text-anchor="end" fill="#4a4a4a" textLength="8.4" lengthAdjust="spacingAndGlyphs" >40</text>
<text x="589.1" y="369.05" font-size="9.2" font-family='"Liberation Serif", serif' text-anchor="end" fill="#4a4a4a" textLength="8.4" lengthAdjust="spacingAndGlyphs" >50</text>
<text x="639.8" y="362.2" font-size="9.6" font-family='"Liberation Sans", sans-serif' text-anchor="middle" fill="#333333" textLength="35" lengthAdjust="spacingAndGlyphs" >S.2 (both)</text>
<path d="M612.8 383.6V379.8H667.1V383.6" stroke="#222" stroke-width="1.1" fill="none"/>
<text x="632.95" y="377.2" font-size="10.6" font-family='"Liberation Serif", serif' text-anchor="start" fill="#333" textLength="9.4" lengthAdjust="spacingAndGlyphs" style="font-style:italic" stroke="#fff" stroke-width="0.12">W</text>
<polygon points="645.25,369.3 645.75,370.31 646.87,370.47 646.06,371.26 646.25,372.38 645.25,371.85 644.25,372.38 644.44,371.26 643.63,370.47 644.75,370.31" fill="#333"/>
<path d="M613 393.7V423.5M613 458.3V461.6" stroke="#222" stroke-width="0.7" stroke-dasharray="1,1" fill="none"/>
<rect x="603.5" y="423.5" width="19" height="34.8" fill="#fff" stroke="#999" stroke-width="0.8"/>
<path d="M603.5 454.6H622.5" stroke="#666" stroke-width="1.0"/>
<path d="M611 393.7H615M611 461.6H615" stroke="#111" stroke-width="1.45" stroke-linecap="butt"/>
<polygon points="610.25,444.6 615.75,444.6 613,439.6" fill="#4aa865"/>
<path d="M667.1 456.6V459.2M667.1 462.6V463.5" stroke="#222" stroke-width="0.7" stroke-dasharray="1,1" fill="none"/>
<rect x="657.5" y="459.2" width="16.7" height="3.4" fill="#fff" stroke="#999" stroke-width="0.8"/>
<path d="M657.5 461.1H674.2" stroke="#666" stroke-width="1.0"/>
<path d="M665.1 456.6H669.1M665.1 463.5H669.1" stroke="#111" stroke-width="1.45" stroke-linecap="butt"/>
<path d="M664.7 448.1H669.5M667.1 445.7V450.5" stroke="#f01818" stroke-width="1" fill="none"/>
<path d="M664.7 450.7H669.5M667.1 448.3V453.1" stroke="#f01818" stroke-width="1" fill="none"/>
<polygon points="664.35,462.3 669.85,462.3 667.1,457.3" fill="#4aa865"/>
<circle cx="602" cy="393.7" r="1.75" fill="#9c1010"/>
<circle cx="599.8" cy="408.1" r="1.75" fill="#9c1010"/>
<circle cx="602" cy="418.5" r="1.75" fill="#9c1010"/>
<circle cx="599.8" cy="422.6" r="1.75" fill="#9c1010"/>
<circle cx="603.1" cy="425.4" r="1.75" fill="#9c1010"/>
<circle cx="600.3" cy="452.7" r="1.75" fill="#9c1010"/>
<circle cx="603.1" cy="452.3" r="1.75" fill="#9c1010"/>
<circle cx="599.4" cy="456.4" r="1.75" fill="#9c1010"/>
<circle cx="601.3" cy="458.9" r="1.75" fill="#9c1010"/>
<circle cx="604.4" cy="458.3" r="1.75" fill="#9c1010"/>
<circle cx="602.6" cy="461.3" r="1.75" fill="#9c1010"/>
<circle cx="604.4" cy="461.6" r="1.75" fill="#9c1010"/>
<circle cx="676.4" cy="450.1" r="1.75" fill="#0c0c8c"/>
<circle cx="679.8" cy="447.7" r="1.75" fill="#0c0c8c"/>
<circle cx="680.7" cy="451.4" r="1.75" fill="#0c0c8c"/>
<circle cx="677.9" cy="457" r="1.75" fill="#0c0c8c"/>
<circle cx="676.1" cy="460.7" r="1.75" fill="#0c0c8c"/>
<circle cx="678.3" cy="461.6" r="1.75" fill="#0c0c8c"/>
<circle cx="679.8" cy="461.3" r="1.75" fill="#0c0c8c"/>
<circle cx="675.1" cy="462.2" r="1.75" fill="#0c0c8c"/>
<circle cx="677.6" cy="462.6" r="1.75" fill="#0c0c8c"/>
<rect x="595.5" y="366" width="88.4" height="98" fill="none" stroke="#1e1e1e" stroke-width="1.2"/>
<text x="613" y="477.7" font-size="9" font-family='"Liberation Sans", sans-serif' text-anchor="middle" fill="#444" textLength="35" lengthAdjust="spacingAndGlyphs" >N (n=14)</text>
<text x="667.1" y="477.7" font-size="9" font-family='"Liberation Sans", sans-serif' text-anchor="middle" fill="#444" textLength="31.6" lengthAdjust="spacingAndGlyphs" >I (n=16)</text>
<text x="20.1" y="600.65" font-size="9.2" font-family='"Liberation Serif", serif' text-anchor="end" fill="#4a4a4a" textLength="4.2" lengthAdjust="spacingAndGlyphs" >0</text>
<text x="20.1" y="576.07" font-size="9.2" font-family='"Liberation Serif", serif' text-anchor="end" fill="#4a4a4a" textLength="8.4" lengthAdjust="spacingAndGlyphs" >10</text>
<text x="20.1" y="551.5" font-size="9.2" font-family='"Liberation Serif", serif' text-anchor="end" fill="#4a4a4a" textLength="8.4" lengthAdjust="spacingAndGlyphs" >20</text>
<text x="20.1" y="526.92" font-size="9.2" font-family='"Liberation Serif", serif' text-anchor="end" fill="#4a4a4a" textLength="8.4" lengthAdjust="spacingAndGlyphs" >30</text>
<text x="20.1" y="502.35" font-size="9.2" font-family='"Liberation Serif", serif' text-anchor="end" fill="#4a4a4a" textLength="8.4" lengthAdjust="spacingAndGlyphs" >40</text>
<text x="71.2" y="495.4" font-size="9.6" font-family='"Liberation Sans", sans-serif' text-anchor="middle" fill="#333333" textLength="47.7" lengthAdjust="spacingAndGlyphs" >S.3 (tweezers)</text>
<path d="M44.1 531.6V526.2H98.7V531.6" stroke="#222" stroke-width="1.1" fill="none"/>
<text x="64.4" y="523.6" font-size="10.6" font-family='"Liberation Serif", serif' text-anchor="start" fill="#333" textLength="9.4" lengthAdjust="spacingAndGlyphs" style="font-style:italic" stroke="#fff" stroke-width="0.12">W</text>
<polygon points="76.7,515.7 77.2,516.71 78.32,516.87 77.51,517.66 77.7,518.78 76.7,518.25 75.7,518.78 75.89,517.66 75.08,516.87 76.2,516.71" fill="#333"/>
<path d="M44.1 543.6V565.7M44.1 583.1V591.8" stroke="#222" stroke-width="0.7" stroke-dasharray="1,1" fill="none"/>
<rect x="34.7" y="565.7" width="18.7" height="17.4" fill="#fff" stroke="#999" stroke-width="0.8"/>
<path d="M34.7 580.3H53.4" stroke="#666" stroke-width="1.0"/>
<path d="M42.1 543.6H46.1M42.1 591.8H46.1" stroke="#111" stroke-width="1.45" stroke-linecap="butt"/>
<polygon points="41.35,577.5 46.85,577.5 44.1,572.5" fill="#4aa865"/>
<path d="M98.1 583.5V590.2M98.1 595.7V597.2" stroke="#222" stroke-width="0.7" stroke-dasharray="1,1" fill="none"/>
<rect x="88.5" y="590.2" width="18.5" height="5.5" fill="#fff" stroke="#999" stroke-width="0.8"/>
<path d="M88.5 593.9H107" stroke="#666" stroke-width="1.0"/>
<path d="M96.1 583.5H100.1M96.1 597.2H100.1" stroke="#111" stroke-width="1.45" stroke-linecap="butt"/>
<path d="M95.7 574.6H100.5M98.1 572.2V577" stroke="#f01818" stroke-width="1" fill="none"/>
<polygon points="95.35,594.3 100.85,594.3 98.1,589.3" fill="#4aa865"/>
<circle cx="33" cy="543.6" r="1.75" fill="#9c1010"/>
<circle cx="31.7" cy="553.1" r="1.75" fill="#9c1010"/>
<circle cx="34.3" cy="562.5" r="1.75" fill="#9c1010"/>
<circle cx="30.4" cy="575.5" r="1.75" fill="#9c1010"/>
<circle cx="32.1" cy="579.8" r="1.75" fill="#9c1010"/>
<circle cx="33.6" cy="580.3" r="1.75" fill="#9c1010"/>
<circle cx="35.2" cy="582" r="1.75" fill="#9c1010"/>
<circle cx="32.6" cy="583.1" r="1.75" fill="#9c1010"/>
<circle cx="35.8" cy="583.7" r="1.75" fill="#9c1010"/>
<circle cx="32.6" cy="589.6" r="1.75" fill="#9c1010"/>
<circle cx="34.3" cy="592" r="1.75" fill="#9c1010"/>
<circle cx="110.2" cy="574.6" r="1.75" fill="#0c0c8c"/>
<circle cx="111.8" cy="583.5" r="1.75" fill="#0c0c8c"/>
<circle cx="111.3" cy="590.2" r="1.75" fill="#0c0c8c"/>
<circle cx="107.9" cy="590.2" r="1.75" fill="#0c0c8c"/>
<circle cx="107.4" cy="592.8" r="1.75" fill="#0c0c8c"/>
<circle cx="109.6" cy="593.9" r="1.75" fill="#0c0c8c"/>
<circle cx="108.5" cy="595" r="1.75" fill="#0c0c8c"/>
<circle cx="111.1" cy="595.7" r="1.75" fill="#0c0c8c"/>
<circle cx="107.4" cy="596.1" r="1.75" fill="#0c0c8c"/>
<circle cx="109.6" cy="596.8" r="1.75" fill="#0c0c8c"/>
<rect x="26.5" y="499.3" width="89.2" height="98.3" fill="none" stroke="#1e1e1e" stroke-width="1.2"/>
<text x="44.5" y="611.1" font-size="9" font-family='"Liberation Sans", sans-serif' text-anchor="middle" fill="#444" textLength="35" lengthAdjust="spacingAndGlyphs" >N (n=14)</text>
<text x="98.3" y="611.1" font-size="9" font-family='"Liberation Sans", sans-serif' text-anchor="middle" fill="#444" textLength="31.6" lengthAdjust="spacingAndGlyphs" >I (n=15)</text>
<text x="134.1" y="600.65" font-size="9.2" font-family='"Liberation Serif", serif' text-anchor="end" fill="#4a4a4a" textLength="4.2" lengthAdjust="spacingAndGlyphs" >0</text>
<text x="134.1" y="580.99" font-size="9.2" font-family='"Liberation Serif", serif' text-anchor="end" fill="#4a4a4a" textLength="8.4" lengthAdjust="spacingAndGlyphs" >10</text>
<text x="134.1" y="561.33" font-size="9.2" font-family='"Liberation Serif", serif' text-anchor="end" fill="#4a4a4a" textLength="8.4" lengthAdjust="spacingAndGlyphs" >20</text>
<text x="134.1" y="541.67" font-size="9.2" font-family='"Liberation Serif", serif' text-anchor="end" fill="#4a4a4a" textLength="8.4" lengthAdjust="spacingAndGlyphs" >30</text>
<text x="134.1" y="522.01" font-size="9.2" font-family='"Liberation Serif", serif' text-anchor="end" fill="#4a4a4a" textLength="8.4" lengthAdjust="spacingAndGlyphs" >40</text>
<text x="134.1" y="502.35" font-size="9.2" font-family='"Liberation Serif", serif' text-anchor="end" fill="#4a4a4a" textLength="8.4" lengthAdjust="spacingAndGlyphs" >50</text>
<text x="184.8" y="495.4" font-size="9.6" font-family='"Liberation Sans", sans-serif' text-anchor="middle" fill="#333333" textLength="64.5" lengthAdjust="spacingAndGlyphs" >S.3 (needle holder)</text>
<path d="M157.8 534.9V531H212.5V534.9" stroke="#222" stroke-width="1.1" fill="none"/>
<text x="178.15" y="528.4" font-size="10.6" font-family='"Liberation Serif", serif' text-anchor="start" fill="#333" textLength="9.4" lengthAdjust="spacingAndGlyphs" style="font-style:italic" stroke="#fff" stroke-width="0.12">W</text>
<polygon points="190.45,520.5 190.95,521.51 192.07,521.67 191.26,522.46 191.45,523.58 190.45,523.05 189.45,523.58 189.64,522.46 188.83,521.67 189.95,521.51" fill="#333"/>
<path d="M158 550.1V566.3M158 580.3V589.8" stroke="#222" stroke-width="0.7" stroke-dasharray="1,1" fill="none"/>
<rect x="148.8" y="566.3" width="18.7" height="14" fill="#fff" stroke="#999" stroke-width="0.8"/>
<path d="M148.8 574.7H167.5" stroke="#666" stroke-width="1.0"/>
<path d="M156 550.1H160M156 589.8H160" stroke="#111" stroke-width="1.45" stroke-linecap="butt"/>
<path d="M155.6 545.1H160.4M158 542.7V547.5" stroke="#f01818" stroke-width="1" fill="none"/>
<polygon points="155.25,574 160.75,574 158,569" fill="#4aa865"/>
<path d="M212.5 587V590.5M212.5 595.3V597.6" stroke="#222" stroke-width="0.7" stroke-dasharray="1,1" fill="none"/>
<rect x="202.4" y="590.5" width="19.4" height="4.8" fill="#fff" stroke="#999" stroke-width="0.8"/>
<path d="M202.4 593.9H221.8" stroke="#666" stroke-width="1.0"/>
<path d="M210.5 587H214.5M210.5 597.6H214.5" stroke="#111" stroke-width="1.45" stroke-linecap="butt"/>
<path d="M210.1 574.7H214.9M212.5 572.3V577.1" stroke="#f01818" stroke-width="1" fill="none"/>
<path d="M210.1 582.1H214.9M212.5 579.7V584.5" stroke="#f01818" stroke-width="1" fill="none"/>
<polygon points="209.75,593.9 215.25,593.9 212.5,588.9" fill="#4aa865"/>
<circle cx="144.6" cy="545.1" r="1.75" fill="#9c1010"/>
<circle cx="145.3" cy="550.1" r="1.75" fill="#9c1010"/>
<circle cx="144.6" cy="556.1" r="1.75" fill="#9c1010"/>
<circle cx="145.1" cy="566.3" r="1.75" fill="#9c1010"/>
<circle cx="146.1" cy="568.2" r="1.75" fill="#9c1010"/>
<circle cx="149.2" cy="567.2" r="1.75" fill="#9c1010"/>
<circle cx="148.3" cy="573.9" r="1.75" fill="#9c1010"/>
<circle cx="145.1" cy="575.8" r="1.75" fill="#9c1010"/>
<circle cx="149.2" cy="578" r="1.75" fill="#9c1010"/>
<circle cx="147.5" cy="581.2" r="1.75" fill="#9c1010"/>
<circle cx="148.5" cy="584.9" r="1.75" fill="#9c1010"/>
<circle cx="147.9" cy="586.4" r="1.75" fill="#9c1010"/>
<circle cx="145.5" cy="589.8" r="1.75" fill="#9c1010"/>
<circle cx="225.5" cy="574.7" r="1.75" fill="#0c0c8c"/>
<circle cx="220.7" cy="582.1" r="1.75" fill="#0c0c8c"/>
<circle cx="221.4" cy="587" r="1.75" fill="#0c0c8c"/>
<circle cx="225.5" cy="589.2" r="1.75" fill="#0c0c8c"/>
<circle cx="222" cy="592" r="1.75" fill="#0c0c8c"/>
<circle cx="224.2" cy="593.9" r="1.75" fill="#0c0c8c"/>
<circle cx="221.4" cy="594.8" r="1.75" fill="#0c0c8c"/>
<circle cx="223.3" cy="595.7" r="1.75" fill="#0c0c8c"/>
<circle cx="225.1" cy="596.1" r="1.75" fill="#0c0c8c"/>
<circle cx="220.5" cy="596.1" r="1.75" fill="#0c0c8c"/>
<rect x="140.5" y="499.3" width="88.9" height="98.3" fill="none" stroke="#1e1e1e" stroke-width="1.2"/>
<text x="158" y="611.1" font-size="9" font-family='"Liberation Sans", sans-serif' text-anchor="middle" fill="#444" textLength="39.4" lengthAdjust="spacingAndGlyphs" >N* (n=14)</text>
<text x="212.5" y="611.1" font-size="9" font-family='"Liberation Sans", sans-serif' text-anchor="middle" fill="#444" textLength="31.6" lengthAdjust="spacingAndGlyphs" >I (n=15)</text>
<text x="248.1" y="600.65" font-size="9.2" font-family='"Liberation Serif", serif' text-anchor="end" fill="#4a4a4a" textLength="4.2" lengthAdjust="spacingAndGlyphs" >0</text>
<text x="248.1" y="580.99" font-size="9.2" font-family='"Liberation Serif", serif' text-anchor="end" fill="#4a4a4a" textLength="4.2" lengthAdjust="spacingAndGlyphs" >5</text>
<text x="248.1" y="561.33" font-size="9.2" font-family='"Liberation Serif", serif' text-anchor="end" fill="#4a4a4a" textLength="8.4" lengthAdjust="spacingAndGlyphs" >10</text>
<text x="248.1" y="541.67" font-size="9.2" font-family='"Liberation Serif", serif' text-anchor="end" fill="#4a4a4a" textLength="8.4" lengthAdjust="spacingAndGlyphs" >15</text>
<text x="248.1" y="522.01" font-size="9.2" font-family='"Liberation Serif", serif' text-anchor="end" fill="#4a4a4a" textLength="8.4" lengthAdjust="spacingAndGlyphs" >20</text>
<text x="248.1" y="502.35" font-size="9.2" font-family='"Liberation Serif", serif' text-anchor="end" fill="#4a4a4a" textLength="8.4" lengthAdjust="spacingAndGlyphs" >25</text>
<text x="298.4" y="495.4" font-size="9.6" font-family='"Liberation Sans", sans-serif' text-anchor="middle" fill="#333333" textLength="35" lengthAdjust="spacingAndGlyphs" >S.3 (both)</text>
<path d="M271.2 533.4V525H325.6V533.4" stroke="#222" stroke-width="1.1" fill="none"/>
<text x="291.4" y="522.4" font-size="10.6" font-family='"Liberation Serif", serif' text-anchor="start" fill="#333" textLength="9.4" lengthAdjust="spacingAndGlyphs" style="font-style:italic" stroke="#fff" stroke-width="0.12">W</text>
<polygon points="303.7,514.5 304.2,515.51 305.32,515.67 304.51,516.46 304.7,517.58 303.7,517.05 302.7,517.58 302.89,516.46 302.08,515.67 303.2,515.51" fill="#333"/>
<path d="M271.2 552.9V566.5M271.2 578.4V589.2" stroke="#222" stroke-width="0.7" stroke-dasharray="1,1" fill="none"/>
<rect x="261.9" y="566.5" width="18.6" height="11.9" fill="#fff" stroke="#999" stroke-width="0.8"/>
<path d="M261.9 576.2H280.5" stroke="#666" stroke-width="1.0"/>
<path d="M269.2 552.9H273.2M269.2 589.2H273.2" stroke="#111" stroke-width="1.45" stroke-linecap="butt"/>
<polygon points="268.45,575.3 273.95,575.3 271.2,570.3" fill="#4aa865"/>
<path d="M325.6 586V589.6M325.6 596.1V597.2" stroke="#222" stroke-width="0.7" stroke-dasharray="1,1" fill="none"/>
<rect x="316.4" y="589.6" width="18.1" height="6.5" fill="#fff" stroke="#999" stroke-width="0.8"/>
<path d="M316.4 593.5H334.5" stroke="#666" stroke-width="1.0"/>
<path d="M323.6 586H327.6M323.6 597.2H327.6" stroke="#111" stroke-width="1.45" stroke-linecap="butt"/>
<path d="M323.2 570.6H328M325.6 568.2V573" stroke="#f01818" stroke-width="1" fill="none"/>
<path d="M323.2 575.6H328M325.6 573.2V578" stroke="#f01818" stroke-width="1" fill="none"/>
<polygon points="322.85,593.2 328.35,593.2 325.6,588.2" fill="#4aa865"/>
<circle cx="260.6" cy="552.9" r="1.75" fill="#9c1010"/>
<circle cx="262.5" cy="553.5" r="1.75" fill="#9c1010"/>
<circle cx="261" cy="566.5" r="1.75" fill="#9c1010"/>
<circle cx="261.5" cy="573.4" r="1.75" fill="#9c1010"/>
<circle cx="260.1" cy="575.8" r="1.75" fill="#9c1010"/>
<circle cx="262.3" cy="575.6" r="1.75" fill="#9c1010"/>
<circle cx="259.1" cy="576.7" r="1.75" fill="#9c1010"/>
<circle cx="261" cy="578" r="1.75" fill="#9c1010"/>
<circle cx="261.9" cy="582.7" r="1.75" fill="#9c1010"/>
<circle cx="259.5" cy="589.2" r="1.75" fill="#9c1010"/>
<circle cx="262.8" cy="587.9" r="1.75" fill="#9c1010"/>
<circle cx="338.2" cy="570.6" r="1.75" fill="#0c0c8c"/>
<circle cx="334.9" cy="575.8" r="1.75" fill="#0c0c8c"/>
<circle cx="338.2" cy="586" r="1.75" fill="#0c0c8c"/>
<circle cx="337.6" cy="587.3" r="1.75" fill="#0c0c8c"/>
<circle cx="339.5" cy="591.4" r="1.75" fill="#0c0c8c"/>
<circle cx="335.4" cy="592" r="1.75" fill="#0c0c8c"/>
<circle cx="334.5" cy="594.8" r="1.75" fill="#0c0c8c"/>
<circle cx="336.3" cy="595.3" r="1.75" fill="#0c0c8c"/>
<circle cx="337.3" cy="596.3" r="1.75" fill="#0c0c8c"/>
<circle cx="335.4" cy="596.6" r="1.75" fill="#0c0c8c"/>
<circle cx="338.6" cy="596.6" r="1.75" fill="#0c0c8c"/>
<rect x="254.5" y="499.3" width="88.9" height="98.3" fill="none" stroke="#1e1e1e" stroke-width="1.2"/>
<text x="271.2" y="611.1" font-size="9" font-family='"Liberation Sans", sans-serif' text-anchor="middle" fill="#444" textLength="39.4" lengthAdjust="spacingAndGlyphs" >N* (n=13)</text>
<text x="325.6" y="611.1" font-size="9" font-family='"Liberation Sans", sans-serif' text-anchor="middle" fill="#444" textLength="31.6" lengthAdjust="spacingAndGlyphs" >I (n=15)</text>
<text x="361.5" y="600.65" font-size="9.2" font-family='"Liberation Serif", serif' text-anchor="end" fill="#4a4a4a" textLength="4.2" lengthAdjust="spacingAndGlyphs" >0</text>
<text x="361.5" y="576.07" font-size="9.2" font-family='"Liberation Serif", serif' text-anchor="end" fill="#4a4a4a" textLength="4.2" lengthAdjust="spacingAndGlyphs" >5</text>
<text x="361.5" y="551.5" font-size="9.2" font-family='"Liberation Serif", serif' text-anchor="end" fill="#4a4a4a" textLength="8.4" lengthAdjust="spacingAndGlyphs" >10</text>
<text x="361.5" y="526.92" font-size="9.2" font-family='"Liberation Serif", serif' text-anchor="end" fill="#4a4a4a" textLength="8.4" lengthAdjust="spacingAndGlyphs" >15</text>
<text x="361.5" y="502.35" font-size="9.2" font-family='"Liberation Serif", serif' text-anchor="end" fill="#4a4a4a" textLength="8.4" lengthAdjust="spacingAndGlyphs" >20</text>
<text x="412.2" y="495.4" font-size="9.6" font-family='"Liberation Sans", sans-serif' text-anchor="middle" fill="#333333" textLength="47.7" lengthAdjust="spacingAndGlyphs" >S.4 (tweezers)</text>
<path d="M385.2 533.4V523.5H439.2V533.4" stroke="#222" stroke-width="1.1" fill="none"/>
<text x="405.2" y="520.9" font-size="10.6" font-family='"Liberation Serif", serif' text-anchor="start" fill="#333" textLength="9.4" lengthAdjust="spacingAndGlyphs" style="font-style:italic" stroke="#fff" stroke-width="0.12">W</text>
<polygon points="417.5,513 418,514.01 419.12,514.17 418.31,514.96 418.5,516.08 417.5,515.55 416.5,516.08 416.69,514.96 415.88,514.17 417,514.01" fill="#333"/>
<path d="M385.2 557.6V567.8M385.2 592.4V597.2" stroke="#222" stroke-width="0.7" stroke-dasharray="1,1" fill="none"/>
<rect x="375.9" y="567.8" width="18.6" height="24.6" fill="#fff" stroke="#999" stroke-width="0.8"/>
<path d="M375.9 588.3H394.5" stroke="#666" stroke-width="1.0"/>
<path d="M383.2 557.6H387.2M383.2 597.2H387.2" stroke="#111" stroke-width="1.45" stroke-linecap="butt"/>
<polygon points="382.45,584.3 387.95,584.3 385.2,579.3" fill="#4aa865"/>
<path d="M439.2 588.6V592.4M439.2 595.7V597.6" stroke="#222" stroke-width="0.7" stroke-dasharray="1,1" fill="none"/>
<rect x="429.9" y="592.4" width="19" height="3.3" fill="#fff" stroke="#999" stroke-width="0.8"/>
<path d="M429.9 594.4H448.9" stroke="#666" stroke-width="1.0"/>
<path d="M437.2 588.6H441.2M437.2 597.6H441.2" stroke="#111" stroke-width="1.45" stroke-linecap="butt"/>
<path d="M436.8 585.5H441.6M439.2 583.1V587.9" stroke="#f01818" stroke-width="1" fill="none"/>
<polygon points="436.45,595.4 441.95,595.4 439.2,590.4" fill="#4aa865"/>
<circle cx="376.3" cy="557.6" r="1.75" fill="#9c1010"/>
<circle cx="372.7" cy="565.4" r="1.75" fill="#9c1010"/>
<circle cx="372.7" cy="567.4" r="1.75" fill="#9c1010"/>
<circle cx="372.2" cy="574.3" r="1.75" fill="#9c1010"/>
<circle cx="373.1" cy="580.3" r="1.75" fill="#9c1010"/>
<circle cx="375.5" cy="587.9" r="1.75" fill="#9c1010"/>
<circle cx="371.8" cy="590.7" r="1.75" fill="#9c1010"/>
<circle cx="374.1" cy="591.1" r="1.75" fill="#9c1010"/>
<circle cx="375.9" cy="591.4" r="1.75" fill="#9c1010"/>
<circle cx="372.6" cy="594.8" r="1.75" fill="#9c1010"/>
<circle cx="374.1" cy="596.3" r="1.75" fill="#9c1010"/>
<circle cx="448.5" cy="586.4" r="1.75" fill="#0c0c8c"/>
<circle cx="452.2" cy="586" r="1.75" fill="#0c0c8c"/>
<circle cx="447.6" cy="589.2" r="1.75" fill="#0c0c8c"/>
<circle cx="448.5" cy="592" r="1.75" fill="#0c0c8c"/>
<circle cx="451.3" cy="592.6" r="1.75" fill="#0c0c8c"/>
<circle cx="453.1" cy="592.9" r="1.75" fill="#0c0c8c"/>
<circle cx="449.4" cy="594.8" r="1.75" fill="#0c0c8c"/>
<circle cx="451.8" cy="595.7" r="1.75" fill="#0c0c8c"/>
<circle cx="448.5" cy="596.6" r="1.75" fill="#0c0c8c"/>
<circle cx="453.1" cy="596.3" r="1.75" fill="#0c0c8c"/>
<rect x="367.9" y="499.3" width="89" height="98.3" fill="none" stroke="#1e1e1e" stroke-width="1.2"/>
<text x="385.2" y="611.1" font-size="9" font-family='"Liberation Sans", sans-serif' text-anchor="middle" fill="#444" textLength="39.4" lengthAdjust="spacingAndGlyphs" >N* (n=13)</text>
<text x="439.2" y="611.1" font-size="9" font-family='"Liberation Sans", sans-serif' text-anchor="middle" fill="#444" textLength="31.6" lengthAdjust="spacingAndGlyphs" >I (n=14)</text>
<text x="475.1" y="600.65" font-size="9.2" font-family='"Liberation Serif", serif' text-anchor="end" fill="#4a4a4a" textLength="4.2" lengthAdjust="spacingAndGlyphs" >0</text>
<text x="475.1" y="576.07" font-size="9.2" font-family='"Liberation Serif", serif' text-anchor="end" fill="#4a4a4a" textLength="4.2" lengthAdjust="spacingAndGlyphs" >5</text>
<text x="475.1" y="551.5" font-size="9.2" font-family='"Liberation Serif", serif' text-anchor="end" fill="#4a4a4a" textLength="8.4" lengthAdjust="spacingAndGlyphs" >10</text>
<text x="475.1" y="526.92" font-size="9.2" font-family='"Liberation Serif", serif' text-anchor="end" fill="#4a4a4a" textLength="8.4" lengthAdjust="spacingAndGlyphs" >15</text>
<text x="475.1" y="502.35" font-size="9.2" font-family='"Liberation Serif", serif' text-anchor="end" fill="#4a4a4a" textLength="8.4" lengthAdjust="spacingAndGlyphs" >20</text>
<text x="525.8" y="495.4" font-size="9.6" font-family='"Liberation Sans", sans-serif' text-anchor="middle" fill="#333333" textLength="64.5" lengthAdjust="spacingAndGlyphs" >S.4 (needle holder)</text>
<path d="M498.7 526.9V517H553.2V526.9" stroke="#222" stroke-width="1.1" fill="none"/>
<text x="518.95" y="514.4" font-size="10.6" font-family='"Liberation Serif", serif' text-anchor="start" fill="#333" textLength="9.4" lengthAdjust="spacingAndGlyphs" style="font-style:italic" stroke="#fff" stroke-width="0.12">W</text>
<polygon points="531.25,506.5 531.75,507.51 532.87,507.67 532.06,508.46 532.25,509.58 531.25,509.05 530.25,509.58 530.44,508.46 529.63,507.67 530.75,507.51" fill="#333"/>
<path d="M498.7 551.1V566.3M498.7 587.9V597.6" stroke="#222" stroke-width="0.7" stroke-dasharray="1,1" fill="none"/>
<rect x="489.5" y="566.3" width="19" height="21.6" fill="#fff" stroke="#999" stroke-width="0.8"/>
<path d="M489.5 581.4H508.5" stroke="#666" stroke-width="1.0"/>
<path d="M496.7 551.1H500.7M496.7 597.6H500.7" stroke="#111" stroke-width="1.45" stroke-linecap="butt"/>
<polygon points="495.95,580 501.45,580 498.7,575" fill="#4aa865"/>
<path d="M553.2 589.2V591.6M553.2 595.2V597.6" stroke="#222" stroke-width="0.7" stroke-dasharray="1,1" fill="none"/>
<rect x="543.9" y="591.6" width="19" height="3.6" fill="#fff" stroke="#999" stroke-width="0.8"/>
<path d="M543.9 592.9H562.9" stroke="#666" stroke-width="1.0"/>
<path d="M551.2 589.2H555.2M551.2 597.6H555.2" stroke="#111" stroke-width="1.45" stroke-linecap="butt"/>
<path d="M550.8 581.2H555.6M553.2 578.8V583.6" stroke="#f01818" stroke-width="1" fill="none"/>
<polygon points="550.45,595.1 555.95,595.1 553.2,590.1" fill="#4aa865"/>
<circle cx="485.6" cy="551.1" r="1.75" fill="#9c1010"/>
<circle cx="489" cy="558.1" r="1.75" fill="#9c1010"/>
<circle cx="488.4" cy="561.3" r="1.75" fill="#9c1010"/>
<circle cx="485.8" cy="567.4" r="1.75" fill="#9c1010"/>
<circle cx="489" cy="576.7" r="1.75" fill="#9c1010"/>
<circle cx="488.6" cy="581.4" r="1.75" fill="#9c1010"/>
<circle cx="489.5" cy="581.8" r="1.75" fill="#9c1010"/>
<circle cx="487.7" cy="585.9" r="1.75" fill="#9c1010"/>
<circle cx="489.4" cy="587" r="1.75" fill="#9c1010"/>
<circle cx="486.7" cy="590.7" r="1.75" fill="#9c1010"/>
<circle cx="489.5" cy="595.2" r="1.75" fill="#9c1010"/>
<circle cx="488.1" cy="596.6" r="1.75" fill="#9c1010"/>
<circle cx="561.6" cy="581.2" r="1.75" fill="#0c0c8c"/>
<circle cx="564.3" cy="589.6" r="1.75" fill="#0c0c8c"/>
<circle cx="563.4" cy="592" r="1.75" fill="#0c0c8c"/>
<circle cx="565.3" cy="592.6" r="1.75" fill="#0c0c8c"/>
<circle cx="562.5" cy="593.3" r="1.75" fill="#0c0c8c"/>
<circle cx="566.2" cy="593.9" r="1.75" fill="#0c0c8c"/>
<circle cx="564" cy="594.8" r="1.75" fill="#0c0c8c"/>
<circle cx="561.6" cy="595.7" r="1.75" fill="#0c0c8c"/>
<circle cx="565.3" cy="596.1" r="1.75" fill="#0c0c8c"/>
<circle cx="563" cy="596.6" r="1.75" fill="#0c0c8c"/>
<rect x="481.5" y="499.3" width="89.4" height="98.3" fill="none" stroke="#1e1e1e" stroke-width="1.2"/>
<text x="498.7" y="611.1" font-size="9" font-family='"Liberation Sans", sans-serif' text-anchor="middle" fill="#444" textLength="39.4" lengthAdjust="spacingAndGlyphs" >N* (n=12)</text>
<text x="553.2" y="611.1" font-size="9" font-family='"Liberation Sans", sans-serif' text-anchor="middle" fill="#444" textLength="31.6" lengthAdjust="spacingAndGlyphs" >I (n=14)</text>
<text x="589.1" y="600.65" font-size="9.2" font-family='"Liberation Serif", serif' text-anchor="end" fill="#4a4a4a" textLength="4.2" lengthAdjust="spacingAndGlyphs" >0</text>
<text x="589.1" y="576.07" font-size="9.2" font-family='"Liberation Serif", serif' text-anchor="end" fill="#4a4a4a" textLength="4.2" lengthAdjust="spacingAndGlyphs" >5</text>
<text x="589.1" y="551.5" font-size="9.2" font-family='"Liberation Serif", serif' text-anchor="end" fill="#4a4a4a" textLength="8.4" lengthAdjust="spacingAndGlyphs" >10</text>
<text x="589.1" y="526.92" font-size="9.2" font-family='"Liberation Serif", serif' text-anchor="end" fill="#4a4a4a" textLength="8.4" lengthAdjust="spacingAndGlyphs" >15</text>
<text x="589.1" y="502.35" font-size="9.2" font-family='"Liberation Serif", serif' text-anchor="end" fill="#4a4a4a" textLength="8.4" lengthAdjust="spacingAndGlyphs" >20</text>
<text x="639.8" y="495.4" font-size="9.6" font-family='"Liberation Sans", sans-serif' text-anchor="middle" fill="#333333" textLength="35" lengthAdjust="spacingAndGlyphs" >S.4 (both)</text>
<path d="M612.8 535.2V525.4H667.1V535.2" stroke="#222" stroke-width="1.1" fill="none"/>
<text x="632.95" y="522.8" font-size="10.6" font-family='"Liberation Serif", serif' text-anchor="start" fill="#333" textLength="9.4" lengthAdjust="spacingAndGlyphs" style="font-style:italic" stroke="#fff" stroke-width="0.12">W</text>
<polygon points="645.25,514.9 645.75,515.91 646.87,516.07 646.06,516.86 646.25,517.98 645.25,517.45 644.25,517.98 644.44,516.86 643.63,516.07 644.75,515.91" fill="#333"/>
<path d="M613 560.4V575.8M613 593.5V597.6" stroke="#222" stroke-width="0.7" stroke-dasharray="1,1" fill="none"/>
<rect x="603.5" y="575.8" width="19" height="17.7" fill="#fff" stroke="#999" stroke-width="0.8"/>
<path d="M603.5 591.4H622.5" stroke="#666" stroke-width="1.0"/>
<path d="M611 560.4H615M611 597.6H615" stroke="#111" stroke-width="1.45" stroke-linecap="butt"/>
<polygon points="610.25,588 615.75,588 613,583" fill="#4aa865"/>
<path d="M667.1 592V595.3M667.1 597.6V597.6" stroke="#222" stroke-width="0.7" stroke-dasharray="1,1" fill="none"/>
<rect x="657.5" y="595.3" width="16.7" height="2.3" fill="#fff" stroke="#999" stroke-width="0.8"/>
<path d="M657.5 596.5H674.2" stroke="#666" stroke-width="1.0"/>
<path d="M665.1 592H669.1M665.1 597.6H669.1" stroke="#111" stroke-width="1.45" stroke-linecap="butt"/>
<path d="M664.7 591.4H669.5M667.1 589V593.8" stroke="#f01818" stroke-width="1" fill="none"/>
<polygon points="664.35,597.7 669.85,597.7 667.1,592.7" fill="#4aa865"/>
<circle cx="604.4" cy="560.4" r="1.75" fill="#9c1010"/>
<circle cx="599.4" cy="571.2" r="1.75" fill="#9c1010"/>
<circle cx="599.8" cy="575.8" r="1.75" fill="#9c1010"/>
<circle cx="603.1" cy="575.8" r="1.75" fill="#9c1010"/>
<circle cx="604.8" cy="575.8" r="1.75" fill="#9c1010"/>
<circle cx="599.4" cy="584.6" r="1.75" fill="#9c1010"/>
<circle cx="601.6" cy="591.1" r="1.75" fill="#9c1010"/>
<circle cx="600.3" cy="592.9" r="1.75" fill="#9c1010"/>
<circle cx="602.6" cy="592.6" r="1.75" fill="#9c1010"/>
<circle cx="601.6" cy="596.3" r="1.75" fill="#9c1010"/>
<circle cx="603.5" cy="596.6" r="1.75" fill="#9c1010"/>
<circle cx="675.1" cy="591.4" r="1.75" fill="#0c0c8c"/>
<circle cx="677.6" cy="592" r="1.75" fill="#0c0c8c"/>
<circle cx="679.8" cy="591.4" r="1.75" fill="#0c0c8c"/>
<circle cx="676.1" cy="594.8" r="1.75" fill="#0c0c8c"/>
<circle cx="678.3" cy="594.8" r="1.75" fill="#0c0c8c"/>
<circle cx="680.7" cy="595.7" r="1.75" fill="#0c0c8c"/>
<circle cx="677" cy="596.6" r="1.75" fill="#0c0c8c"/>
<circle cx="679.4" cy="596.6" r="1.75" fill="#0c0c8c"/>
<rect x="595.5" y="499.3" width="88.4" height="98.3" fill="none" stroke="#1e1e1e" stroke-width="1.2"/>
<text x="613" y="611.1" font-size="9" font-family='"Liberation Sans", sans-serif' text-anchor="middle" fill="#444" textLength="39.4" lengthAdjust="spacingAndGlyphs" >N* (n=13)</text>
<text x="667.1" y="611.1" font-size="9" font-family='"Liberation Sans", sans-serif' text-anchor="middle" fill="#444" textLength="31.6" lengthAdjust="spacingAndGlyphs" >I (n=14)</text>
<text transform="translate(11.8,98) rotate(-90)" font-size="12" font-family='"Liberation Sans", sans-serif' text-anchor="middle" fill="#333" textLength="94" lengthAdjust="spacingAndGlyphs">Completion time [s]</text>
<text transform="translate(6.7,415.5) rotate(-90)" font-size="9.3" font-family='"Liberation Sans", sans-serif' text-anchor="middle" fill="#444" textLength="39.6" lengthAdjust="spacingAndGlyphs">Idle time [s]</text>
<text transform="translate(6.7,549.2) rotate(-90)" font-size="9.3" font-family='"Liberation Sans", sans-serif' text-anchor="middle" fill="#444" textLength="39.6" lengthAdjust="spacingAndGlyphs">Idle time [s]</text>
<text x="21.6" y="229" font-size="12.5" font-family='"Liberation Sans", sans-serif' fill="#000" textLength="56.8" lengthAdjust="spacingAndGlyphs">N: Novice.</text>
<text x="90.4" y="229" font-size="12.5" font-family='"Liberation Sans", sans-serif' fill="#000" textLength="79.8" lengthAdjust="spacingAndGlyphs">I: Intermediate.</text>
<text x="184" y="229" font-size="12.5" font-family='"Liberation Sans", sans-serif' fill="#000" textLength="172.5" lengthAdjust="spacingAndGlyphs">* denotes a normal distribution.</text>
<text x="366.4" y="229" font-size="12.5" font-family='"Liberation Sans", sans-serif' fill="#000" textLength="81" lengthAdjust="spacingAndGlyphs"><tspan font-family='"Liberation Serif", serif' font-style="italic">n</tspan>: sample size.</text>
<text x="21.6" y="256.3" font-size="12.5" font-family='"Liberation Sans", sans-serif' fill="#000" textLength="43.5" lengthAdjust="spacingAndGlyphs"><tspan font-style="italic">T</tspan>: t-test.</text>
<text x="78.1" y="256.3" font-size="12.5" font-family='"Liberation Sans", sans-serif' fill="#000" textLength="92.6" lengthAdjust="spacingAndGlyphs"><tspan font-style="italic">W</tspan>: Wilcoxon test</text>
<polygon points="223.4,257.9 233.4,257.9 228.4,248.7" fill="#22a84c"/>
<text x="241.3" y="257" font-size="12.5" font-family='"Liberation Sans", sans-serif' fill="#000" textLength="64.5" lengthAdjust="spacingAndGlyphs">Mean value</text>
<path d="M340.5 251.8H345.7M343.1 249.2V254.4" stroke="#e31b1b" stroke-width="1.3" fill="none"/>
<text x="350.8" y="255.8" font-size="12.5" font-family='"Liberation Sans", sans-serif' fill="#000" textLength="36.5" lengthAdjust="spacingAndGlyphs">Outlier</text>
<circle cx="25.6" cy="279.8" r="2.7" fill="#c0141c"/>
<text x="39.7" y="283.3" font-size="12.5" font-family='"Liberation Sans", sans-serif' fill="#000" textLength="217.2" lengthAdjust="spacingAndGlyphs">Novice sample points (red filled circles)</text>
<circle cx="312.7" cy="280.6" r="2.7" fill="#10206a"/>
<text x="326.2" y="283.3" font-size="12.5" font-family='"Liberation Sans", sans-serif' fill="#000" textLength="254.6" lengthAdjust="spacingAndGlyphs">Intermediate sample points (blue filled circles)</text>
<text x="239.2" y="320.8" font-size="13.7" font-family='"Liberation Serif", serif' fill="#000" textLength="15.2" lengthAdjust="spacingAndGlyphs">(a)</text>
<text x="264.8" y="320.8" font-size="13.7" font-family='"Liberation Serif", serif' fill="#000" textLength="64.8" lengthAdjust="spacingAndGlyphs">Statistics of</text>
<text x="332.2" y="320.8" font-size="13.7" font-family='"Liberation Serif", serif' fill="#000" textLength="87" lengthAdjust="spacingAndGlyphs" style="font-style:italic">completion time</text>
<text x="423.4" y="320.8" font-size="13.7" font-family='"Liberation Serif", serif' fill="#000" textLength="3.8" lengthAdjust="spacingAndGlyphs">(</text>
<path d="M429 319.6C429.8 320.4 430.9 319.7 431.5 318L434 311.2L435.4 318.6L441.8 311.2L441.1 319.5C441.2 320.1 441.5 320.1 441.9 319.8" stroke="#111" stroke-width="0.75" fill="none" stroke-linejoin="round" stroke-linecap="round"/>
<path d="M434 311.4L435.3 318.4M441.8 311.4L441.15 319.3" stroke="#111" stroke-width="1.15" fill="none" stroke-linecap="round"/>
<text x="442.5" y="323.4" font-size="8.8" font-family='"Liberation Serif", serif' fill="#000" textLength="11.8" lengthAdjust="spacingAndGlyphs" style="font-weight:bold">ΔT</text>
<text x="455.8" y="320.8" font-size="13.7" font-family='"Liberation Serif", serif' fill="#000" textLength="3.8" lengthAdjust="spacingAndGlyphs">)</text>
<text x="253.7" y="639.8" font-size="13.7" font-family='"Liberation Serif", serif' fill="#000" textLength="15.8" lengthAdjust="spacingAndGlyphs">(b)</text>
<text x="279.2" y="639.8" font-size="13.7" font-family='"Liberation Serif", serif' fill="#000" textLength="65.3" lengthAdjust="spacingAndGlyphs">Statistics of</text>
<text x="346.7" y="639.8" font-size="13.7" font-family='"Liberation Serif", serif' fill="#000" textLength="46.7" lengthAdjust="spacingAndGlyphs" style="font-style:italic">idle time</text>
<text x="397.6" y="639.8" font-size="13.7" font-family='"Liberation Serif", serif' fill="#000" textLength="3.8" lengthAdjust="spacingAndGlyphs">(</text>
<path d="M402.6 639.6C403.44 640.4 404.6 639.7 405.23 638L407.85 631.2L409.32 638.6L416.04 631.2L415.31 639.5C415.41 640.1 415.73 640.1 416.15 639.8" stroke="#111" stroke-width="0.75" fill="none" stroke-linejoin="round" stroke-linecap="round"/>
<path d="M407.85 631.4L409.22 638.4M416.04 631.4L415.36 639.3" stroke="#111" stroke-width="1.15" fill="none" stroke-linecap="round"/>
<text x="416.2" y="642.1" font-size="8.8" font-family='"Liberation Serif", serif' fill="#000" textLength="6.1" lengthAdjust="spacingAndGlyphs" style="font-weight:bold">T</text>
<text x="422.7" y="643.6" font-size="8.3" font-family='"Liberation Serif", serif' fill="#000" textLength="17.5" lengthAdjust="spacingAndGlyphs" style="font-weight:bold">idle</text>
<text x="442.3" y="639.8" font-size="13.7" font-family='"Liberation Serif", serif' fill="#000" textLength="3.8" lengthAdjust="spacingAndGlyphs">)</text>
</svg>
</body></html>
